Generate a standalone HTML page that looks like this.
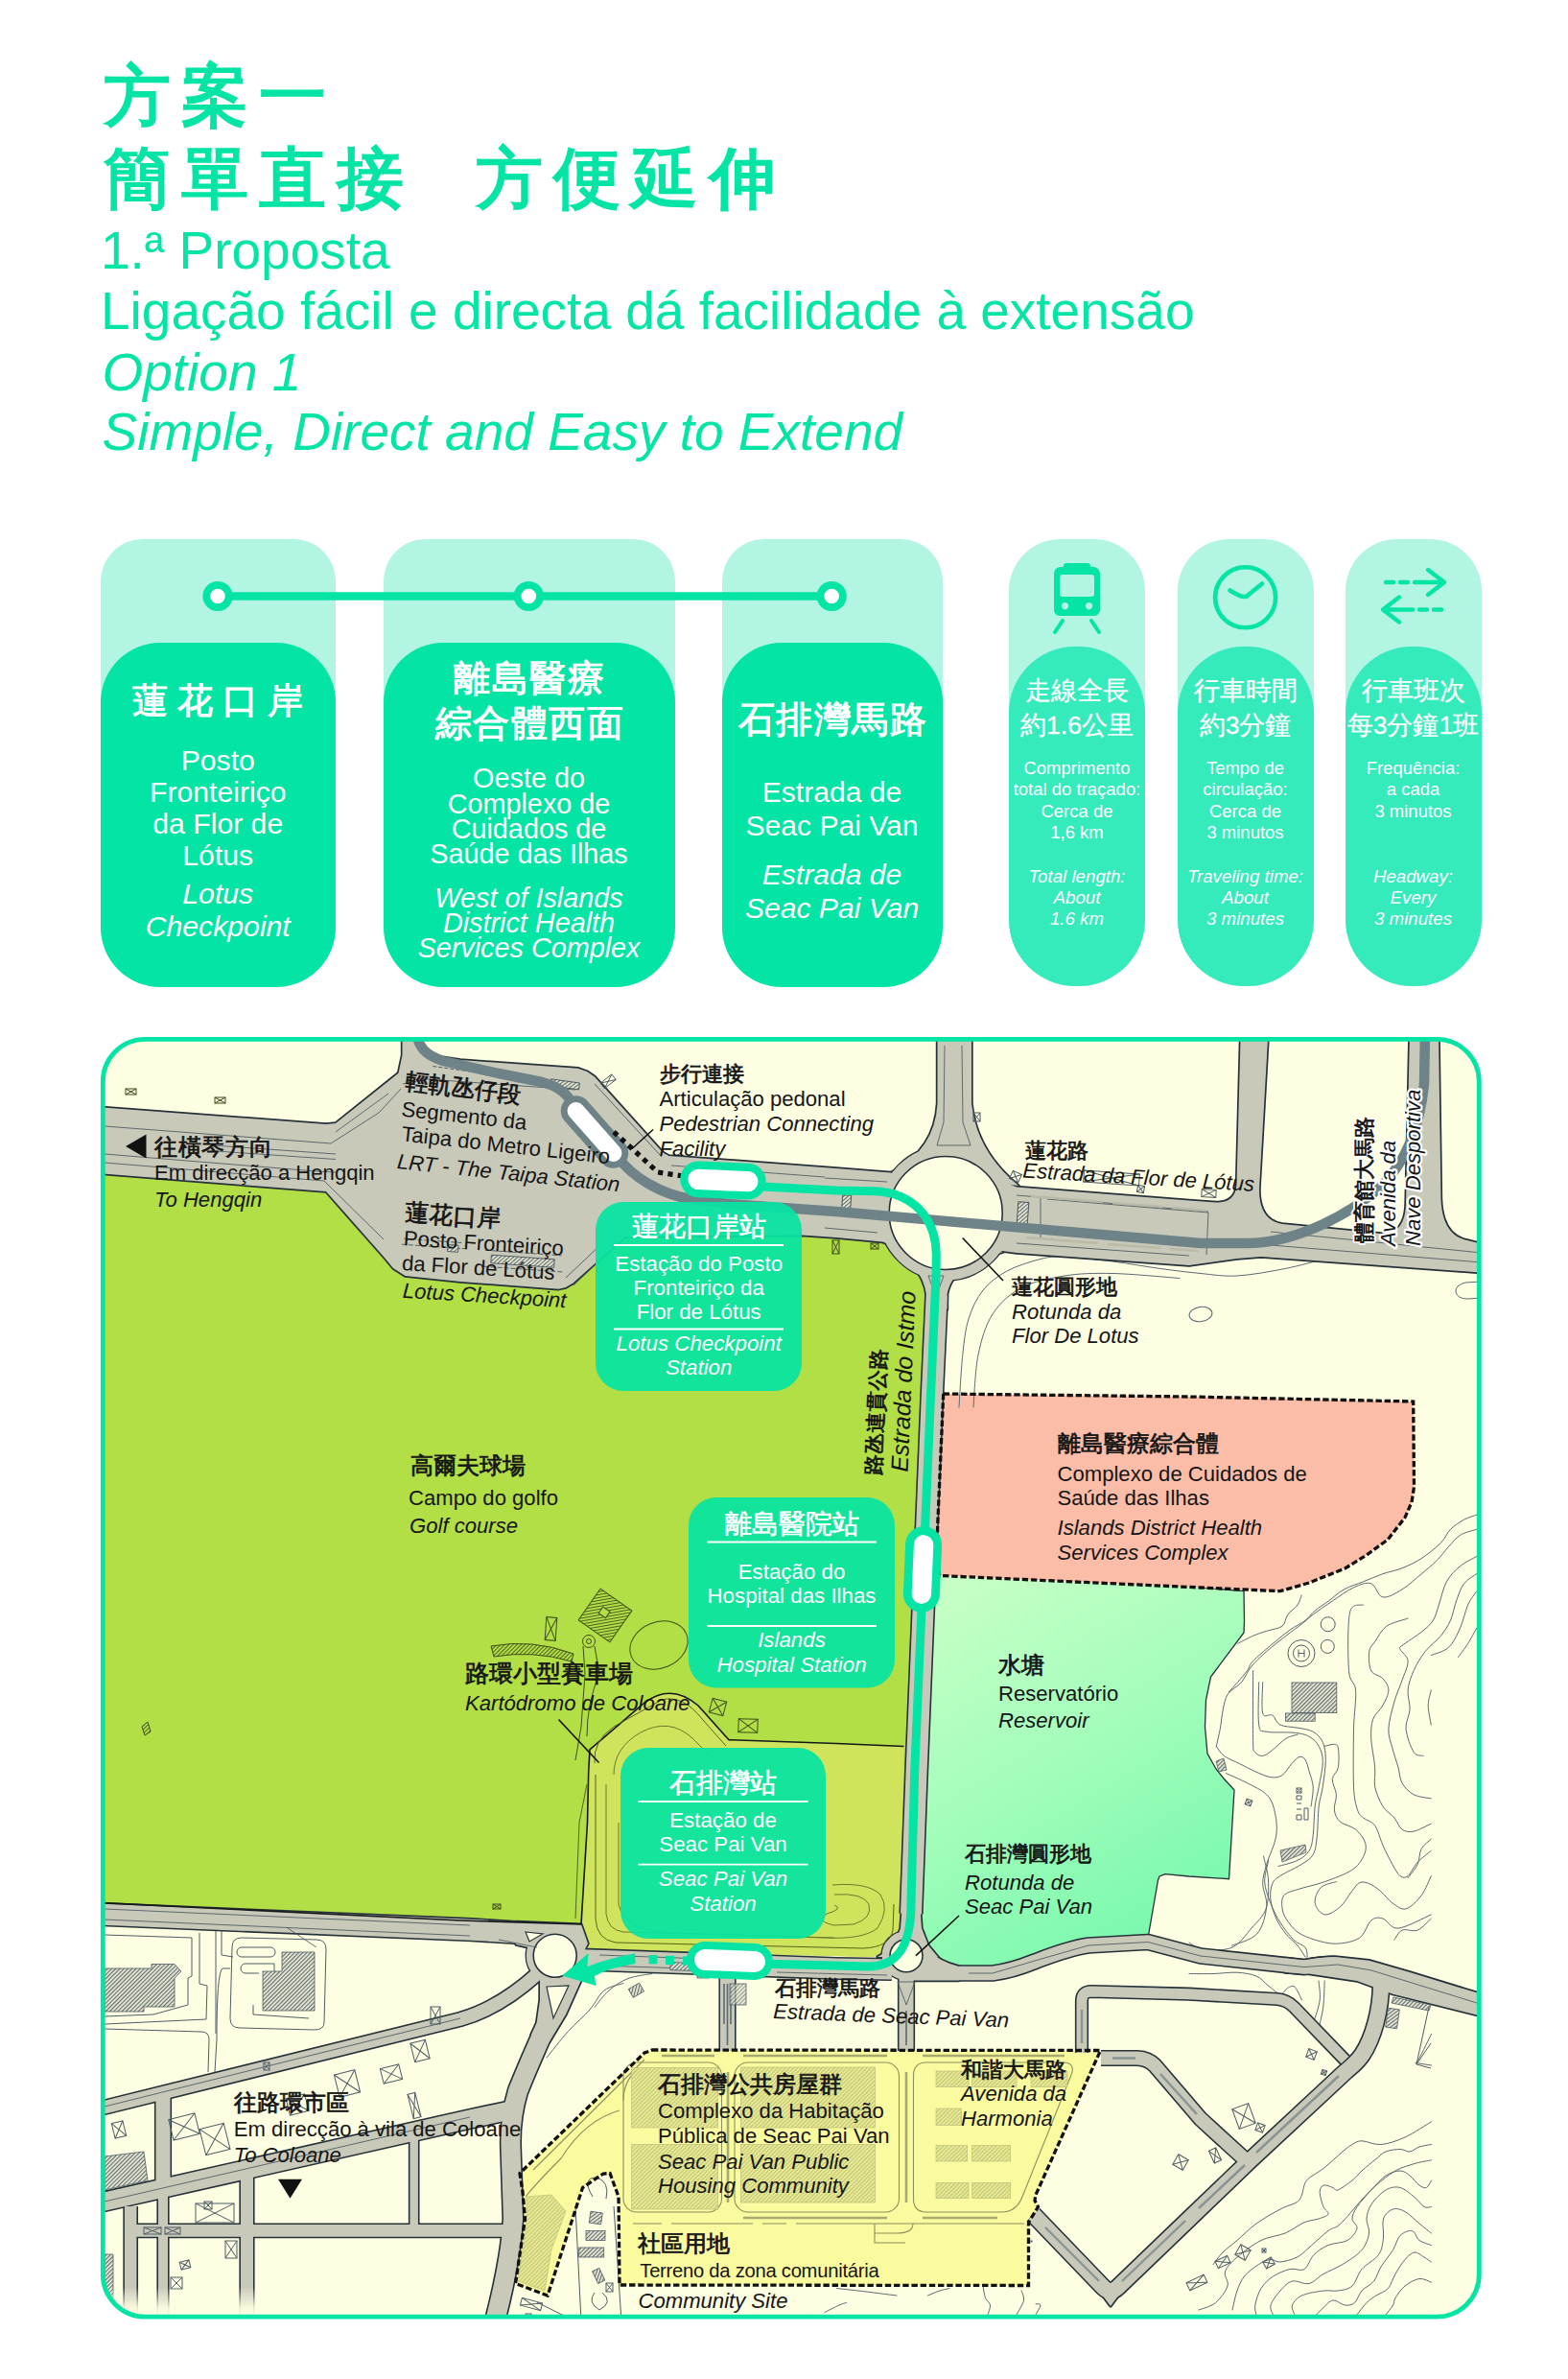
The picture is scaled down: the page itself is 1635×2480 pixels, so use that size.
<!DOCTYPE html>
<html><head><meta charset="utf-8"><title>方案一</title>
<style>
html,body{margin:0;padding:0;background:#fff;}
body{width:1635px;height:2480px;position:relative;overflow:hidden;font-family:"Liberation Sans",sans-serif;}
.a{position:absolute;white-space:nowrap;}
.h{color:#04E4A4;font-size:55px;line-height:63px;left:105px;}
.h.i{left:106.5px;}
.t{color:#04E4A4;font-size:69.5px;line-height:80px;font-weight:bold;left:108px;letter-spacing:11px;}
.card{position:absolute;border-radius:44px;background:#B1F5E2;}
.cd{position:absolute;left:0;right:0;bottom:0;border-radius:60px;background:#04E4A4;}
.sd{position:absolute;left:0;right:0;bottom:0;border-radius:50px;background:#35EBBC;}
.c{position:absolute;left:-20px;right:-20px;text-align:center;color:#fff;white-space:nowrap;}
.i{font-style:italic;}
svg text{font-family:"Liberation Sans",sans-serif;}
</style></head><body>

<div class="a t" style="top:60px">方案一</div>
<div class="a t" style="top:146px">簡單直接<span style="display:inline-block;width:63.5px"></span>方便延伸</div>
<div class="a h" style="top:230.4px">1.ª Proposta</div>
<div class="a h" style="top:292.9px">Ligação fácil e directa dá facilidade à extensão</div>
<div class="a h i" style="top:356.9px">Option 1</div>
<div class="a h i" style="top:419.4px">Simple, Direct and Easy to Extend</div>
<div class="card" style="left:104.5px;top:562px;width:245.5px;height:300px;border-radius:44px 44px 0 0"></div>
<div class="card" style="left:104.5px;top:669.5px;width:245.5px;height:359px;border-radius:62px;background:#04E4A4"></div>
<div class="card" style="left:399.5px;top:562px;width:304px;height:300px;border-radius:44px 44px 0 0"></div>
<div class="card" style="left:399.5px;top:669.5px;width:304px;height:359px;border-radius:62px;background:#04E4A4"></div>
<div class="card" style="left:752.5px;top:562px;width:230px;height:300px;border-radius:44px 44px 0 0"></div>
<div class="card" style="left:752.5px;top:669.5px;width:230px;height:359px;border-radius:62px;background:#04E4A4"></div>
<svg class="a" style="left:0;top:0" width="1635" height="1060" viewBox="0 0 1635 1060">
<line x1="227" y1="621.5" x2="867" y2="621.5" stroke="#04E4A4" stroke-width="8.5"/>
<circle cx="227" cy="621.5" r="11.7" fill="#fff" stroke="#04E4A4" stroke-width="7.8"/>
<circle cx="551.3" cy="621.5" r="11.7" fill="#fff" stroke="#04E4A4" stroke-width="7.8"/>
<circle cx="867.2" cy="621.5" r="11.7" fill="#fff" stroke="#04E4A4" stroke-width="7.8"/>
</svg>
<div class="card" style="left:1052px;top:562px;width:142px;height:300px;border-radius:54px 54px 0 0"></div>
<div class="card" style="left:1052px;top:674px;width:142px;height:354px;border-radius:69px;background:#35EBBC"></div>
<div class="card" style="left:1228px;top:562px;width:142px;height:300px;border-radius:54px 54px 0 0"></div>
<div class="card" style="left:1228px;top:674px;width:142px;height:354px;border-radius:69px;background:#35EBBC"></div>
<div class="card" style="left:1403px;top:562px;width:142px;height:300px;border-radius:54px 54px 0 0"></div>
<div class="card" style="left:1403px;top:674px;width:142px;height:354px;border-radius:69px;background:#35EBBC"></div>
<div class="a" style="left:32.25px;width:400px;text-align:center;top:709.1px;font-size:37px;line-height:44.4px;color:#fff;font-weight:bold;letter-spacing:10px;">蓮花口岸</div>
<div class="a" style="left:27.25px;width:400px;text-align:center;top:778.2px;font-size:30.2px;line-height:30.2px;color:#fff;">Posto</div>
<div class="a" style="left:27.25px;width:400px;text-align:center;top:811.2px;font-size:30.2px;line-height:30.2px;color:#fff;">Fronteiriço</div>
<div class="a" style="left:27.25px;width:400px;text-align:center;top:844.1px;font-size:30.2px;line-height:30.2px;color:#fff;">da Flor de</div>
<div class="a" style="left:27.25px;width:400px;text-align:center;top:877.1px;font-size:30.2px;line-height:30.2px;color:#fff;">Lótus</div>
<div class="a" style="left:27.25px;width:400px;text-align:center;top:917.3px;font-size:30.2px;line-height:30.2px;color:#fff;font-style:italic;">Lotus</div>
<div class="a" style="left:27.25px;width:400px;text-align:center;top:950.9px;font-size:30.2px;line-height:30.2px;color:#fff;font-style:italic;">Checkpoint</div>
<div class="a" style="left:352.25px;width:400px;text-align:center;top:685.0px;font-size:37.5px;line-height:45px;color:#fff;font-weight:bold;letter-spacing:1.5px;">離島醫療</div>
<div class="a" style="left:352.25px;width:400px;text-align:center;top:731.5px;font-size:37.5px;line-height:45px;color:#fff;font-weight:bold;letter-spacing:1.5px;">綜合體西面</div>
<div class="a" style="left:351.5px;width:400px;text-align:center;top:797.4px;font-size:28.8px;line-height:28.8px;color:#fff;">Oeste do</div>
<div class="a" style="left:351.5px;width:400px;text-align:center;top:823.5px;font-size:28.8px;line-height:28.8px;color:#fff;">Complexo de</div>
<div class="a" style="left:351.5px;width:400px;text-align:center;top:849.7px;font-size:28.8px;line-height:28.8px;color:#fff;">Cuidados de</div>
<div class="a" style="left:351.5px;width:400px;text-align:center;top:875.9px;font-size:28.8px;line-height:28.8px;color:#fff;">Saúde das Ilhas</div>
<div class="a" style="left:351.5px;width:400px;text-align:center;top:921.5px;font-size:28.8px;line-height:28.8px;color:#fff;font-style:italic;">West of Islands</div>
<div class="a" style="left:351.5px;width:400px;text-align:center;top:947.5px;font-size:28.8px;line-height:28.8px;color:#fff;font-style:italic;">District Health</div>
<div class="a" style="left:351.5px;width:400px;text-align:center;top:973.6px;font-size:28.8px;line-height:28.8px;color:#fff;font-style:italic;">Services Complex</div>
<div class="a" style="left:668.25px;width:400px;text-align:center;top:728.0px;font-size:37.5px;line-height:45px;color:#fff;font-weight:bold;letter-spacing:1.5px;">石排灣馬路</div>
<div class="a" style="left:667.5px;width:400px;text-align:center;top:811.3px;font-size:30.1px;line-height:30.1px;color:#fff;">Estrada de</div>
<div class="a" style="left:667.5px;width:400px;text-align:center;top:846.0px;font-size:30.1px;line-height:30.1px;color:#fff;">Seac Pai Van</div>
<div class="a" style="left:667.5px;width:400px;text-align:center;top:897.0px;font-size:30.1px;line-height:30.1px;color:#fff;font-style:italic;">Estrada de</div>
<div class="a" style="left:667.5px;width:400px;text-align:center;top:932.4px;font-size:30.1px;line-height:30.1px;color:#fff;font-style:italic;">Seac Pai Van</div>
<div class="a" style="left:923px;width:400px;text-align:center;top:704.8px;font-size:26.5px;line-height:31.8px;color:#fff;-webkit-text-stroke:0.3px #fff;">走線全長</div>
<div class="a" style="left:923px;width:400px;text-align:center;top:741.3px;font-size:26.5px;line-height:31.8px;color:#fff;-webkit-text-stroke:0.3px #fff;">約1.6公里</div>
<div class="a" style="left:923px;width:400px;text-align:center;top:792.2px;font-size:18.5px;line-height:18.5px;color:#fff;">Comprimento</div>
<div class="a" style="left:923px;width:400px;text-align:center;top:814.4px;font-size:18.5px;line-height:18.5px;color:#fff;">total do traçado:</div>
<div class="a" style="left:923px;width:400px;text-align:center;top:836.6px;font-size:18.5px;line-height:18.5px;color:#fff;">Cerca de</div>
<div class="a" style="left:923px;width:400px;text-align:center;top:858.8px;font-size:18.5px;line-height:18.5px;color:#fff;">1,6 km</div>
<div class="a" style="left:923px;width:400px;text-align:center;top:904.6px;font-size:18.7px;line-height:18.7px;color:#fff;font-style:italic;">Total length:</div>
<div class="a" style="left:923px;width:400px;text-align:center;top:926.9px;font-size:18.7px;line-height:18.7px;color:#fff;font-style:italic;">About</div>
<div class="a" style="left:923px;width:400px;text-align:center;top:949.2px;font-size:18.7px;line-height:18.7px;color:#fff;font-style:italic;">1.6 km</div>
<div class="a" style="left:1098.5px;width:400px;text-align:center;top:704.8px;font-size:26.5px;line-height:31.8px;color:#fff;-webkit-text-stroke:0.3px #fff;">行車時間</div>
<div class="a" style="left:1098.5px;width:400px;text-align:center;top:741.3px;font-size:26.5px;line-height:31.8px;color:#fff;-webkit-text-stroke:0.3px #fff;">約3分鐘</div>
<div class="a" style="left:1098.5px;width:400px;text-align:center;top:792.2px;font-size:18.5px;line-height:18.5px;color:#fff;">Tempo de</div>
<div class="a" style="left:1098.5px;width:400px;text-align:center;top:814.4px;font-size:18.5px;line-height:18.5px;color:#fff;">circulação:</div>
<div class="a" style="left:1098.5px;width:400px;text-align:center;top:836.6px;font-size:18.5px;line-height:18.5px;color:#fff;">Cerca de</div>
<div class="a" style="left:1098.5px;width:400px;text-align:center;top:858.8px;font-size:18.5px;line-height:18.5px;color:#fff;">3 minutos</div>
<div class="a" style="left:1098.5px;width:400px;text-align:center;top:904.6px;font-size:18.7px;line-height:18.7px;color:#fff;font-style:italic;">Traveling time:</div>
<div class="a" style="left:1098.5px;width:400px;text-align:center;top:926.9px;font-size:18.7px;line-height:18.7px;color:#fff;font-style:italic;">About</div>
<div class="a" style="left:1098.5px;width:400px;text-align:center;top:949.2px;font-size:18.7px;line-height:18.7px;color:#fff;font-style:italic;">3 minutes</div>
<div class="a" style="left:1273.5px;width:400px;text-align:center;top:704.8px;font-size:26.5px;line-height:31.8px;color:#fff;-webkit-text-stroke:0.3px #fff;">行車班次</div>
<div class="a" style="left:1273.5px;width:400px;text-align:center;top:741.3px;font-size:26.5px;line-height:31.8px;color:#fff;-webkit-text-stroke:0.3px #fff;">每3分鐘1班</div>
<div class="a" style="left:1273.5px;width:400px;text-align:center;top:792.2px;font-size:18.5px;line-height:18.5px;color:#fff;">Frequência:</div>
<div class="a" style="left:1273.5px;width:400px;text-align:center;top:814.4px;font-size:18.5px;line-height:18.5px;color:#fff;">a cada</div>
<div class="a" style="left:1273.5px;width:400px;text-align:center;top:836.6px;font-size:18.5px;line-height:18.5px;color:#fff;">3 minutos</div>
<div class="a" style="left:1273.5px;width:400px;text-align:center;top:904.6px;font-size:18.7px;line-height:18.7px;color:#fff;font-style:italic;">Headway:</div>
<div class="a" style="left:1273.5px;width:400px;text-align:center;top:926.9px;font-size:18.7px;line-height:18.7px;color:#fff;font-style:italic;">Every</div>
<div class="a" style="left:1273.5px;width:400px;text-align:center;top:949.2px;font-size:18.7px;line-height:18.7px;color:#fff;font-style:italic;">3 minutes</div>
<svg class="a" style="left:1040px;top:570px" width="520" height="110" viewBox="1040 570 520 110">
<g fill="#04E4A4" stroke="none">
<path d="M1112 587 h22 a3 3 0 0 1 3 3 v1 h3 a7 7 0 0 1 7 7 v38 a6 6 0 0 1 -6 6 h-36 a6 6 0 0 1 -6 -6 v-38 a7 7 0 0 1 7 -7 h3 v-1 a3 3 0 0 1 3 -3 z M1108 599 a3 3 0 0 0 -3 3 v17 a3 3 0 0 0 3 3 h30 a3 3 0 0 0 3 -3 v-17 a3 3 0 0 0 -3 -3 z M1110.5 628 a3.7 3.7 0 1 0 0.01 0 z M1135.500 628 a3.7 3.7 0 1 0 0.01 0 z" fill-rule="evenodd"/>
</g>
<path d="M1108 647 L1100 659 M1138 647 L1146 659" stroke="#04E4A4" stroke-width="4" stroke-linecap="round" fill="none"/>
<circle cx="1298.6" cy="622.8" r="31.5" fill="none" stroke="#04E4A4" stroke-width="4.6"/>
<path d="M1282.500 615.500 Q1296 624 1300 621.500 L1316 608.500" stroke="#04E4A4" stroke-width="4.6" stroke-linecap="round" stroke-linejoin="round" fill="none"/>
<g stroke="#04E4A4" stroke-width="4.4" stroke-linecap="round" stroke-linejoin="round" fill="none">
<path d="M1445 607 h8 M1460 607 h8 M1475 607 h30 M1489 594 L1506 607 L1489 620"/>
<path d="M1503 635.500 h-8 M1488 635.500 h-8 M1473 635.500 h-30 M1459 622.500 L1442 635.500 L1459 648.500"/>
</g></svg>
<svg class="a" style="left:0;top:1060px" width="1635" height="1420" viewBox="0 1060 1635 1420">
<defs>
<clipPath id="fr"><rect x="107.3" y="1083.4" width="1435" height="1331.7" rx="44" ry="44"/></clipPath>
<linearGradient id="res" gradientUnits="userSpaceOnUse" x1="1000" y1="1650" x2="1230" y2="2040"><stop offset="0" stop-color="#C6FFC6"/><stop offset="0.45" stop-color="#A4FDBB"/><stop offset="1" stop-color="#74F8AB"/></linearGradient>
<pattern id="hat" width="3" height="3" patternUnits="userSpaceOnUse" patternTransform="rotate(45)"><rect width="3" height="3" fill="#e9e9d2"/><rect width="1.1" height="3" fill="#5d6a70"/></pattern>
<pattern id="hatg" width="3" height="3" patternUnits="userSpaceOnUse" patternTransform="rotate(45)"><rect width="1" height="3" fill="#4d6320"/></pattern>
<pattern id="haty" width="3" height="3" patternUnits="userSpaceOnUse" patternTransform="rotate(45)"><rect width="3" height="3" fill="#e6e88f"/><rect width="1" height="3" fill="#b9bd78"/></pattern>
<linearGradient id="fade" x1="0" y1="0" x2="0" y2="1"><stop offset="0" stop-color="#FEFEE2" stop-opacity="0"/><stop offset="0.6" stop-color="#FEFEE2" stop-opacity="0.9"/><stop offset="1" stop-color="#FEFEE2" stop-opacity="1"/></linearGradient>
</defs>
<g clip-path="url(#fr)">
<rect x="100" y="1075" width="1450" height="1350" fill="#FEFEE2"/>
<polygon points="100,1223 340,1242 400,1310 410,1322 422.5,1330 480,1336 582.5,1343.7 597.5,1337.5 652,1289 836,1287.5 872,1290 920,1294.5 966,1300 966,1352 961.2,1455 943.7,1847 940,2005 935,2030 910,2040 615,2032.5 606,2006 480,2002 100,1983.3" fill="#B2DE46"/>
<path d="M612.5 1900 L613.7 1847 L615 1824 L672 1775 Q700 1754 728 1778 L760 1813.7 L872 1817.5 L942.5 1820.5 L940 2005 L935 2030 L910 2040 L615 2032.5 L607 2015 L606 2006 Z" fill="#CFE35C"/>
<polygon points="975.3,1643 1252,1655 1297,1658.7 1297.5,1690 1297,1702 1262.5,1748 1257.5,1772 1256.5,1800 1259,1828 1268,1844 1276,1854 1287,1866 1281.5,1958.7 1240,1956 1215,1953.7 1209,1956 1207.5,1960 1197.5,2017.5 1135,2021 1085,2035 1035,2050 1010,2051 990,2047.5 975,2038 967.5,2027.5 961,2010 960,1997.5 966,1835" fill="url(#res)"/>
<path d="M1252 1655 L1297 1658.7 L1297.5 1690 L1297 1702 L1262.5 1748 L1257.5 1772 L1256.5 1800 L1259 1828 L1268 1844 L1276 1854 L1287 1866 L1281.5 1958.7 L1240 1956 L1215 1953.7 L1209 1956 L1207.5 1960 L1197.5 2017.5 L1135 2021" fill="none" stroke="#26323a" stroke-width="1.3"/>
<polygon points="983.7,1453 1240,1456 1473.7,1461 1474.5,1550 1472,1566 1465,1582 1447,1605 1425,1621 1402.5,1635 1365,1650 1335,1658.7 1252,1655 979.5,1642.5 977.5,1595" fill="#FBBDA7"/>
<polygon points="680,2137 1147.5,2137.5 1080,2288 1079,2294 1082.5,2300.5 1072.5,2316.7 1072.5,2382.5 646,2382 645,2290 636,2265.5 629,2266 607.5,2280.5 571,2393 537.5,2380.5 547.5,2313 545,2285 542,2265.5 672,2140" fill="#FAFA9E"/>
<g fill="none" stroke="#5b6a72" stroke-width="1" stroke-linejoin="round" stroke-linecap="round">
<path d="M1290.5 1713.4 C1293.1 1712.0 1301.6 1707.5 1306.6 1705.3 C1311.6 1703.1 1315.7 1701.9 1320.7 1700.3 C1325.8 1698.6 1333.2 1698.1 1336.9 1695.2 C1340.6 1692.4 1340.2 1686.8 1342.9 1683.1 C1345.6 1679.4 1350.7 1676.4 1353.0 1673.0 C1355.4 1669.7 1356.4 1664.6 1357.1 1662.9"/>
<path d="M1281.4 1763.8 C1282.9 1762.2 1287.3 1757.4 1290.5 1753.7 C1293.6 1750.0 1297.9 1745.3 1300.5 1741.6 C1303.2 1737.9 1302.6 1735.9 1306.6 1731.5 C1310.6 1727.2 1318.4 1720.8 1324.8 1715.4 C1331.2 1710.0 1338.9 1703.6 1344.9 1699.3 C1351.0 1694.9 1356.7 1692.5 1361.1 1689.2 C1365.5 1685.8 1367.1 1682.4 1371.2 1679.1 C1375.2 1675.7 1380.3 1672.7 1385.3 1669.0 C1390.4 1665.3 1395.4 1660.2 1401.5 1656.9 C1407.5 1653.5 1414.9 1651.5 1421.6 1648.8 C1428.4 1646.1 1435.1 1643.1 1441.8 1640.7 C1448.5 1638.4 1455.3 1637.4 1462.0 1634.7 C1468.7 1632.0 1475.5 1629.0 1482.2 1624.6 C1488.9 1620.2 1497.3 1613.5 1502.4 1608.4 C1507.4 1603.4 1508.4 1598.3 1512.5 1594.3 C1516.5 1590.3 1522.0 1586.7 1526.6 1584.2 C1531.1 1581.7 1537.5 1580.0 1539.7 1579.2"/>
<path d="M1268.3 1820.3 C1268.9 1817.3 1271.1 1808.6 1272.3 1802.2 C1273.5 1795.8 1274.0 1788.1 1275.3 1782.0 C1276.7 1775.9 1277.2 1770.6 1280.4 1765.9 C1283.6 1761.1 1290.5 1758.5 1294.5 1753.7 C1298.5 1749.0 1300.2 1743.0 1304.6 1737.6 C1309.0 1732.2 1314.7 1726.8 1320.7 1721.5 C1326.8 1716.1 1334.9 1710.0 1340.9 1705.3 C1347.0 1700.6 1352.3 1696.9 1357.1 1693.2 C1361.8 1689.5 1363.8 1687.1 1369.2 1683.1 C1374.5 1679.1 1382.3 1673.7 1389.3 1669.0 C1396.4 1664.3 1404.8 1657.9 1411.5 1654.9 C1418.3 1651.8 1424.7 1649.1 1429.7 1650.8 C1434.8 1652.5 1436.4 1663.9 1441.8 1664.9 C1447.2 1666.0 1455.3 1660.9 1462.0 1656.9 C1468.7 1652.8 1476.1 1645.8 1482.2 1640.7 C1488.2 1635.7 1493.6 1631.3 1498.3 1626.6 C1503.0 1621.9 1506.4 1616.8 1510.4 1612.5 C1514.5 1608.1 1517.7 1603.4 1522.5 1600.4 C1527.4 1597.3 1536.8 1595.3 1539.7 1594.3"/>
<path d="M1268.3 1820.3 C1269.6 1822.0 1272.3 1827.4 1276.3 1830.4 C1280.4 1833.5 1287.1 1835.8 1292.5 1838.5 C1297.9 1841.2 1303.2 1844.2 1308.6 1846.6 C1314.0 1848.9 1320.1 1852.0 1324.8 1852.6 C1329.5 1853.3 1333.2 1853.0 1336.9 1850.6 C1340.6 1848.3 1343.9 1841.7 1347.0 1838.5 C1350.0 1835.3 1352.7 1832.1 1355.0 1831.4 C1357.4 1830.8 1359.4 1831.9 1361.1 1834.5 C1362.8 1837.0 1363.8 1841.9 1365.1 1846.6 C1366.5 1851.3 1368.8 1856.7 1369.2 1862.7 C1369.5 1868.8 1367.5 1879.5 1367.1 1882.9"/>
<path d="M1306.6 1741.6 C1306.6 1753.7 1306.3 1800.2 1306.6 1814.3 C1306.9 1828.4 1306.9 1823.7 1308.6 1826.4 C1310.3 1829.1 1313.7 1830.8 1316.7 1830.4 C1319.7 1830.1 1322.7 1827.4 1326.8 1824.4 C1330.8 1821.4 1336.5 1815.0 1340.9 1812.3 C1345.3 1809.6 1351.0 1808.9 1353.0 1808.2"/>
<path d="M1312.7 1753.7 C1312.7 1761.1 1311.3 1789.6 1312.7 1798.1 C1314.0 1806.7 1314.7 1803.9 1320.7 1805.2 C1326.8 1806.6 1341.6 1805.4 1349.0 1806.2 C1356.4 1807.1 1360.8 1807.9 1365.1 1810.3 C1369.5 1812.6 1372.9 1816.0 1375.2 1820.3 C1377.6 1824.7 1379.3 1829.4 1379.3 1836.5 C1379.3 1843.6 1376.6 1855.0 1375.2 1862.7 C1373.9 1870.5 1372.2 1874.5 1371.2 1882.9 C1370.2 1891.3 1370.2 1905.4 1369.2 1913.2 C1368.2 1920.9 1367.8 1925.0 1365.1 1929.3 C1362.4 1933.7 1358.4 1936.7 1353.0 1939.4 C1347.6 1942.1 1336.2 1944.5 1332.8 1945.5"/>
<path d="M1316.7 1753.7 C1316.7 1759.1 1315.0 1780.3 1316.7 1786.0 C1318.4 1791.8 1323.8 1786.0 1326.8 1788.1 C1329.8 1790.1 1330.5 1796.0 1334.9 1798.1 C1339.2 1800.3 1347.3 1800.0 1353.0 1801.2 C1358.7 1802.3 1364.8 1802.7 1369.2 1805.2 C1373.5 1807.7 1377.1 1811.4 1379.3 1816.3 C1381.4 1821.2 1382.3 1826.7 1382.3 1834.5 C1382.3 1842.2 1380.4 1854.7 1379.3 1862.7 C1378.1 1870.8 1376.2 1874.2 1375.2 1882.9 C1374.2 1891.7 1374.2 1906.8 1373.2 1915.2 C1372.2 1923.6 1371.9 1928.7 1369.2 1933.4 C1366.5 1938.1 1362.8 1939.8 1357.1 1943.5 C1351.3 1947.2 1339.9 1952.2 1334.9 1955.6 C1329.8 1958.9 1328.5 1959.6 1326.8 1963.6 C1325.1 1967.7 1324.1 1973.7 1324.8 1979.8 C1325.4 1985.8 1328.1 1993.9 1330.8 2000.0 C1333.5 2006.0 1337.2 2011.4 1340.9 2016.1 C1344.6 2020.8 1349.7 2024.2 1353.0 2028.2 C1356.4 2032.2 1359.7 2038.1 1361.1 2040.1"/>
<path d="M1381.3 1820.3 C1383.0 1820.0 1389.0 1818.0 1391.4 1818.3 C1393.7 1818.7 1394.7 1818.3 1395.4 1822.4 C1396.1 1826.4 1396.4 1837.2 1395.4 1842.5 C1394.4 1847.9 1389.7 1849.9 1389.3 1854.7 C1389.0 1859.4 1393.0 1865.4 1393.4 1870.8 C1393.7 1876.2 1390.7 1882.2 1391.4 1886.9 C1392.0 1891.7 1393.7 1895.7 1397.4 1899.1 C1401.1 1902.4 1409.2 1903.4 1413.6 1907.1 C1417.9 1910.8 1422.3 1916.5 1423.7 1921.3 C1425.0 1926.0 1424.0 1930.7 1421.6 1935.4 C1419.3 1940.1 1416.3 1945.1 1409.5 1949.5 C1402.8 1953.9 1390.7 1958.3 1381.3 1961.6 C1371.9 1965.0 1360.1 1967.3 1353.0 1969.7 C1346.0 1972.0 1341.6 1972.7 1338.9 1975.7 C1336.2 1978.8 1336.5 1983.8 1336.9 1987.9 C1337.2 1991.9 1338.2 1995.6 1340.9 2000.0 C1343.6 2004.3 1348.0 2010.4 1353.0 2014.1 C1358.1 2017.8 1364.5 2020.1 1371.2 2022.2 C1377.9 2024.2 1385.6 2026.5 1393.4 2026.2 C1401.1 2025.9 1411.5 2024.2 1417.6 2020.1 C1423.7 2016.1 1425.7 2005.3 1429.7 2002.0 C1433.7 1998.6 1437.1 1998.6 1441.8 2000.0 C1446.5 2001.3 1449.6 2010.7 1458.0 2010.1 C1466.4 2009.4 1486.6 1998.3 1492.3 1995.9"/>
<path d="M1421.6 1673.0 C1419.3 1674.4 1410.0 1669.7 1407.5 1681.1 C1405.0 1692.5 1405.5 1728.2 1406.5 1741.6 C1407.5 1755.1 1412.7 1751.7 1413.6 1761.8 C1414.4 1771.9 1411.9 1785.4 1411.5 1802.2 C1411.2 1819.0 1410.9 1848.6 1411.5 1862.7 C1412.2 1876.9 1413.9 1881.6 1415.6 1886.9 C1417.3 1892.3 1418.6 1892.3 1421.6 1895.0 C1424.7 1897.7 1430.4 1898.4 1433.7 1903.1 C1437.1 1907.8 1438.8 1916.5 1441.8 1923.3 C1444.8 1930.0 1448.9 1938.1 1451.9 1943.5 C1454.9 1948.8 1457.3 1953.5 1460.0 1955.6 C1462.7 1957.6 1465.0 1957.9 1468.1 1955.6 C1471.1 1953.2 1474.1 1945.8 1478.1 1941.4 C1482.2 1937.1 1489.9 1931.3 1492.3 1929.3"/>
<path d="M1468.1 1687.1 C1464.4 1688.5 1451.6 1691.2 1445.9 1695.2 C1440.1 1699.3 1436.8 1707.0 1433.7 1711.4 C1430.7 1715.7 1428.4 1716.4 1427.7 1721.5 C1427.0 1726.5 1427.4 1736.9 1429.7 1741.6 C1432.1 1746.3 1438.8 1746.3 1441.8 1749.7 C1444.8 1753.1 1447.9 1757.1 1447.9 1761.8 C1447.9 1766.5 1444.5 1772.9 1441.8 1778.0 C1439.1 1783.0 1433.7 1786.4 1431.7 1792.1 C1429.7 1797.8 1429.4 1803.9 1429.7 1812.3 C1430.0 1820.7 1433.1 1834.1 1433.7 1842.5 C1434.4 1851.0 1432.4 1856.0 1433.7 1862.7 C1435.1 1869.5 1438.5 1877.5 1441.8 1882.9 C1445.2 1888.3 1450.6 1891.0 1453.9 1895.0 C1457.3 1899.1 1458.6 1904.8 1462.0 1907.1 C1465.4 1909.5 1469.1 1910.2 1474.1 1909.1 C1479.2 1908.1 1489.2 1902.4 1492.3 1901.1"/>
<path d="M1539.7 1622.6 C1536.8 1624.2 1527.8 1628.3 1522.5 1632.7 C1517.3 1637.0 1512.1 1642.1 1508.4 1648.8 C1504.7 1655.5 1502.7 1666.3 1500.3 1673.0 C1498.0 1679.7 1497.3 1684.5 1494.3 1689.2 C1491.3 1693.9 1487.6 1696.9 1482.2 1701.3 C1476.8 1705.6 1465.7 1712.4 1462.0 1715.4 C1458.3 1718.4 1459.0 1716.7 1460.0 1719.4 C1461.0 1722.1 1467.7 1726.2 1468.1 1731.5 C1468.4 1736.9 1464.4 1744.7 1462.0 1751.7 C1459.6 1758.8 1456.3 1765.5 1453.9 1773.9 C1451.6 1782.3 1448.2 1794.1 1447.9 1802.2 C1447.5 1810.3 1450.2 1815.6 1451.9 1822.4 C1453.6 1829.1 1456.3 1836.5 1458.0 1842.5 C1459.6 1848.6 1459.3 1854.0 1462.0 1858.7 C1464.7 1863.4 1469.1 1868.1 1474.1 1870.8 C1479.2 1873.5 1489.2 1874.2 1492.3 1874.8"/>
<path d="M1539.7 1640.7 C1537.5 1642.4 1530.1 1646.1 1526.6 1650.8 C1523.0 1655.5 1520.9 1662.6 1518.5 1669.0 C1516.2 1675.4 1515.1 1683.1 1512.5 1689.2 C1509.8 1695.2 1506.7 1699.9 1502.4 1705.3 C1498.0 1710.7 1490.9 1715.4 1486.2 1721.5 C1481.5 1727.5 1477.1 1734.9 1474.1 1741.6 C1471.1 1748.4 1468.7 1755.1 1468.1 1761.8 C1467.4 1768.5 1470.4 1775.3 1470.1 1782.0 C1469.7 1788.7 1465.4 1794.8 1466.0 1802.2 C1466.7 1809.6 1471.1 1821.7 1474.1 1826.4 C1477.1 1831.1 1482.5 1829.8 1484.2 1830.4"/>
<path d="M1539.7 1658.9 C1538.2 1661.2 1533.5 1666.6 1530.6 1673.0 C1527.8 1679.4 1525.9 1689.8 1522.5 1697.2 C1519.2 1704.6 1515.5 1712.7 1510.4 1717.4 C1505.4 1722.1 1495.3 1724.1 1492.3 1725.5"/>
<path d="M1539.7 1697.2 C1538.2 1699.9 1533.8 1708.3 1530.6 1713.4 C1527.4 1718.4 1522.2 1725.2 1520.5 1727.5"/>
<path d="M1492.3 1761.8 C1491.8 1764.5 1489.2 1771.9 1489.2 1778.0 C1489.2 1784.0 1491.8 1794.8 1492.3 1798.1"/>
<path d="M1492.3 1917.2 C1490.6 1918.9 1484.5 1922.9 1482.2 1927.3 C1479.8 1931.7 1480.5 1938.4 1478.1 1943.5 C1475.8 1948.5 1469.7 1955.2 1468.1 1957.6"/>
<path d="M1492.3 1955.6 C1490.6 1958.9 1486.6 1970.0 1482.2 1975.7 C1477.8 1981.5 1471.1 1988.5 1466.0 1989.9 C1461.0 1991.2 1456.3 1986.8 1451.9 1983.8 C1447.5 1980.8 1443.8 1975.1 1439.8 1971.7 C1435.8 1968.3 1431.4 1965.1 1427.7 1963.6 C1424.0 1962.1 1420.6 1961.3 1417.6 1962.6 C1414.6 1964.0 1412.9 1967.5 1409.5 1971.7 C1406.2 1975.9 1402.1 1983.8 1397.4 1987.9 C1392.7 1991.9 1385.6 1996.6 1381.3 1995.9 C1376.9 1995.3 1371.9 1988.5 1371.2 1983.8 C1370.5 1979.1 1373.5 1971.4 1377.2 1967.7 C1380.9 1964.0 1390.7 1962.6 1393.4 1961.6"/>
<path d="M1492.3 2000.0 C1489.9 2002.0 1483.2 2010.1 1478.1 2012.1 C1473.1 2014.1 1466.0 2010.4 1462.0 2012.1 C1458.0 2013.8 1455.3 2020.5 1453.9 2022.2"/>
<path d="M1278.3 1848.6 C1282.0 1850.3 1293.5 1855.0 1300.5 1858.7 C1307.6 1862.4 1316.0 1866.1 1320.7 1870.8 C1325.4 1875.5 1327.1 1879.9 1328.8 1886.9 C1330.5 1894.0 1332.2 1903.8 1330.8 1913.2 C1329.5 1922.6 1323.1 1935.0 1320.7 1943.5 C1318.4 1951.9 1316.7 1956.2 1316.7 1963.6 C1316.7 1971.0 1321.7 1979.1 1320.7 1987.9 C1319.7 1996.6 1316.7 2009.4 1310.6 2016.1 C1304.6 2022.8 1288.8 2026.2 1284.4 2028.2"/>
<path d="M1322.7 1939.4 C1322.1 1943.1 1318.4 1954.2 1318.7 1961.6 C1319.0 1969.0 1322.1 1976.8 1324.8 1983.8 C1327.5 1990.9 1330.8 1997.6 1334.9 2004.0 C1338.9 2010.4 1344.6 2017.8 1349.0 2022.2 C1353.4 2026.5 1358.7 2027.2 1361.1 2030.2 C1363.4 2033.2 1362.8 2038.5 1363.1 2040.1"/>
<path d="M1492.5 2211.8 C1487.9 2214.5 1473.8 2224.0 1465.0 2228.0 C1456.2 2232.0 1447.5 2234.9 1440.0 2235.5 C1432.5 2236.1 1425.0 2231.8 1420.0 2231.8 C1415.0 2231.8 1413.3 2233.6 1410.0 2235.5 C1406.7 2237.4 1405.0 2238.8 1400.0 2243.0 C1395.0 2247.2 1386.2 2255.5 1380.0 2260.5 C1373.8 2265.5 1366.2 2268.4 1362.5 2273.0 C1358.8 2277.6 1359.2 2284.2 1357.5 2288.0 C1355.8 2291.8 1356.2 2293.0 1352.5 2295.5 C1348.8 2298.0 1342.1 2299.2 1335.0 2303.0 C1327.9 2306.8 1317.5 2312.6 1310.0 2318.0 C1302.5 2323.4 1295.8 2330.5 1290.0 2335.5 C1284.2 2340.5 1279.2 2343.8 1275.0 2348.0 C1270.8 2352.2 1266.7 2358.4 1265.0 2360.5"/>
<path d="M1492.5 2235.5 C1490.4 2235.9 1483.8 2236.8 1480.0 2238.0 C1476.2 2239.2 1473.3 2242.6 1470.0 2243.0 C1466.7 2243.4 1464.2 2240.5 1460.0 2240.5 C1455.8 2240.5 1449.2 2241.3 1445.0 2243.0 C1440.8 2244.7 1439.2 2247.2 1435.0 2250.5 C1430.8 2253.8 1424.2 2259.2 1420.0 2263.0 C1415.8 2266.8 1414.2 2269.7 1410.0 2273.0 C1405.8 2276.3 1398.3 2281.8 1395.0 2283.0 C1391.7 2284.2 1392.5 2281.3 1390.0 2280.5 C1387.5 2279.7 1382.3 2277.2 1380.0 2278.0 C1377.7 2278.8 1376.2 2281.8 1376.2 2285.5 C1376.2 2289.2 1378.5 2296.8 1380.0 2300.5 C1381.5 2304.2 1385.8 2305.9 1385.0 2308.0 C1384.2 2310.1 1379.2 2311.5 1375.0 2313.0 C1370.8 2314.5 1365.8 2314.2 1360.0 2316.8 C1354.2 2319.2 1347.5 2324.9 1340.0 2328.0 C1332.5 2331.1 1323.3 2331.3 1315.0 2335.5 C1306.7 2339.7 1296.2 2347.6 1290.0 2353.0 C1283.8 2358.4 1279.2 2363.0 1277.5 2368.0 C1275.8 2373.0 1281.7 2377.6 1280.0 2383.0 C1278.3 2388.4 1272.5 2396.3 1267.5 2400.5 C1262.5 2404.7 1252.9 2406.8 1250.0 2408.0"/>
<path d="M1492.5 2251.8 C1489.6 2252.4 1481.2 2253.6 1475.0 2255.5 C1468.8 2257.4 1461.7 2259.2 1455.0 2263.0 C1448.3 2266.8 1440.8 2273.0 1435.0 2278.0 C1429.2 2283.0 1425.0 2287.6 1420.0 2293.0 C1415.0 2298.4 1409.2 2305.9 1405.0 2310.5 C1400.8 2315.1 1398.3 2318.0 1395.0 2320.5 C1391.7 2323.0 1390.0 2321.8 1385.0 2325.5 C1380.0 2329.2 1370.4 2338.4 1365.0 2343.0 C1359.6 2347.6 1357.5 2350.5 1352.5 2353.0 C1347.5 2355.5 1339.6 2357.6 1335.0 2358.0 C1330.4 2358.4 1328.8 2355.1 1325.0 2355.5 C1321.2 2355.9 1317.1 2357.6 1312.5 2360.5 C1307.9 2363.4 1301.2 2368.4 1297.5 2373.0 C1293.8 2377.6 1292.1 2382.2 1290.0 2388.0 C1287.9 2393.8 1285.8 2404.7 1285.0 2408.0"/>
<path d="M1492.5 2273.0 C1491.7 2274.2 1489.6 2279.7 1487.5 2280.5 C1485.4 2281.3 1482.9 2280.1 1480.0 2278.0 C1477.1 2275.9 1473.3 2270.5 1470.0 2268.0 C1466.7 2265.5 1464.2 2263.0 1460.0 2263.0 C1455.8 2263.0 1450.0 2264.7 1445.0 2268.0 C1440.0 2271.3 1435.0 2277.6 1430.0 2283.0 C1425.0 2288.4 1418.3 2295.5 1415.0 2300.5 C1411.7 2305.5 1410.0 2309.2 1410.0 2313.0 C1410.0 2316.8 1415.8 2319.2 1415.0 2323.0 C1414.2 2326.8 1410.0 2332.6 1405.0 2335.5 C1400.0 2338.4 1390.8 2338.0 1385.0 2340.5 C1379.2 2343.0 1374.2 2346.3 1370.0 2350.5 C1365.8 2354.7 1364.2 2363.0 1360.0 2365.5 C1355.8 2368.0 1350.4 2364.2 1345.0 2365.5 C1339.6 2366.8 1332.5 2369.7 1327.5 2373.0 C1322.5 2376.3 1318.1 2380.5 1315.0 2385.5 C1311.9 2390.5 1309.6 2398.4 1308.8 2403.0 C1307.9 2407.6 1309.8 2411.3 1310.0 2413.0"/>
<path d="M1492.5 2300.5 C1491.2 2300.5 1487.9 2302.2 1485.0 2300.5 C1482.1 2298.8 1479.2 2293.8 1475.0 2290.5 C1470.8 2287.2 1465.0 2281.8 1460.0 2280.5 C1455.0 2279.2 1450.0 2280.1 1445.0 2283.0 C1440.0 2285.9 1433.3 2293.0 1430.0 2298.0 C1426.7 2303.0 1425.4 2308.0 1425.0 2313.0 C1424.6 2318.0 1428.3 2322.6 1427.5 2328.0 C1426.7 2333.4 1424.6 2340.1 1420.0 2345.5 C1415.4 2350.9 1406.7 2356.3 1400.0 2360.5 C1393.3 2364.7 1385.8 2367.2 1380.0 2370.5 C1374.2 2373.8 1370.4 2379.2 1365.0 2380.5 C1359.6 2381.8 1352.5 2376.8 1347.5 2378.0 C1342.5 2379.2 1338.8 2383.8 1335.0 2388.0 C1331.2 2392.2 1326.2 2398.8 1325.0 2403.0 C1323.8 2407.2 1327.1 2411.3 1327.5 2413.0"/>
<path d="M1492.5 2328.0 C1490.4 2326.3 1484.6 2321.8 1480.0 2318.0 C1475.4 2314.2 1469.6 2308.0 1465.0 2305.5 C1460.4 2303.0 1456.2 2301.8 1452.5 2303.0 C1448.8 2304.2 1444.2 2308.0 1442.5 2313.0 C1440.8 2318.0 1443.3 2326.8 1442.5 2333.0 C1441.7 2339.2 1441.2 2345.1 1437.5 2350.5 C1433.8 2355.9 1424.6 2360.1 1420.0 2365.5 C1415.4 2370.9 1414.2 2379.2 1410.0 2383.0 C1405.8 2386.8 1400.0 2387.2 1395.0 2388.0 C1390.0 2388.8 1386.2 2387.2 1380.0 2388.0 C1373.8 2388.8 1362.9 2390.5 1357.5 2393.0 C1352.1 2395.5 1348.8 2399.7 1347.5 2403.0 C1346.2 2406.3 1349.6 2411.3 1350.0 2413.0"/>
<path d="M1492.5 2340.5 C1490.4 2339.7 1483.3 2338.0 1480.0 2335.5 C1476.7 2333.0 1475.8 2326.3 1472.5 2325.5 C1469.2 2324.7 1463.3 2327.2 1460.0 2330.5 C1456.7 2333.8 1455.8 2340.1 1452.5 2345.5 C1449.2 2350.9 1443.3 2357.6 1440.0 2363.0 C1436.7 2368.4 1435.8 2373.8 1432.5 2378.0 C1429.2 2382.2 1423.3 2384.2 1420.0 2388.0 C1416.7 2391.8 1415.4 2398.0 1412.5 2400.5 C1409.6 2403.0 1406.2 2403.4 1402.5 2403.0 C1398.8 2402.6 1393.8 2397.6 1390.0 2398.0 C1386.2 2398.4 1382.9 2403.0 1380.0 2405.5 C1377.1 2408.0 1373.8 2411.8 1372.5 2413.0"/>
<path d="M1492.5 2358.0 C1491.2 2357.2 1487.9 2354.7 1485.0 2353.0 C1482.1 2351.3 1478.3 2347.6 1475.0 2348.0 C1471.7 2348.4 1468.3 2351.8 1465.0 2355.5 C1461.7 2359.2 1457.9 2365.5 1455.0 2370.5 C1452.1 2375.5 1450.8 2381.8 1447.5 2385.5 C1444.2 2389.2 1438.8 2390.5 1435.0 2393.0 C1431.2 2395.5 1428.3 2397.2 1425.0 2400.5 C1421.7 2403.8 1416.7 2410.9 1415.0 2413.0"/>
<path d="M1492.5 2379.2 C1490.4 2378.6 1484.6 2374.9 1480.0 2375.5 C1475.4 2376.1 1469.2 2379.7 1465.0 2383.0 C1460.8 2386.3 1457.1 2392.2 1455.0 2395.5 C1452.9 2398.8 1454.2 2400.1 1452.5 2403.0 C1450.8 2405.9 1446.2 2411.3 1445.0 2413.0"/>
<path d="M1492.5 2120.5 C1490.4 2124.7 1482.7 2140.5 1480.0 2145.5 C1477.3 2150.5 1476.9 2149.7 1476.2 2150.5"/>
<path d="M1476.2 2150.5 L1492.5 2153.0"/>
<path d="M1240.0 2057.5 C1244.2 2057.5 1256.7 2057.7 1265.0 2057.5 C1273.3 2057.3 1282.5 2055.8 1290.0 2056.2 C1297.5 2056.7 1304.6 2057.7 1310.0 2060.0 C1315.4 2062.3 1318.3 2066.9 1322.5 2070.0 C1326.7 2073.1 1331.7 2078.3 1335.0 2078.8 C1338.3 2079.2 1340.0 2073.8 1342.5 2072.5 C1345.0 2071.2 1347.5 2069.2 1350.0 2071.2 C1352.5 2073.3 1356.2 2082.7 1357.5 2085.0"/>
<path d="M1375.0 2065.0 C1375.2 2068.3 1377.1 2077.9 1376.2 2085.0 C1375.4 2092.1 1371.0 2103.8 1370.0 2107.5"/>
<path d="M1381.2 2065.0 C1381.0 2069.2 1380.8 2082.5 1380.0 2090.0 C1379.2 2097.5 1376.9 2106.7 1376.2 2110.0"/>
<path d="M1240.0 2025.0 C1242.5 2026.2 1247.5 2031.7 1255.0 2032.5 C1262.5 2033.3 1276.7 2033.8 1285.0 2030.0 C1293.3 2026.2 1299.2 2016.7 1305.0 2010.0 C1310.8 2003.3 1317.1 1998.3 1320.0 1990.0 C1322.9 1981.7 1322.9 1969.2 1322.5 1960.0 C1322.1 1950.8 1318.3 1939.2 1317.5 1935.0"/>
<path d="M860.0 2410.5 C862.5 2409.2 871.2 2404.7 875.0 2403.0 C878.8 2401.3 881.2 2400.9 882.5 2400.5"/>
<path d="M967.5 2393.0 C969.6 2392.2 976.2 2389.2 980.0 2388.0 C983.8 2386.8 988.3 2385.9 990.0 2385.5"/>
<path d="M1025.0 2383.0 C1025.4 2385.1 1026.2 2392.2 1027.5 2395.5 C1028.8 2398.8 1032.1 2400.1 1032.5 2403.0 C1032.9 2405.9 1030.4 2411.3 1030.0 2413.0"/>
<path d="M1065.0 2388.0 C1065.4 2389.7 1068.3 2393.8 1067.5 2398.0 C1066.7 2402.2 1061.2 2410.5 1060.0 2413.0"/>
<path d="M1080.0 2413.0 C1080.8 2411.3 1085.0 2404.9 1085.0 2403.0 C1085.0 2401.1 1080.8 2402.0 1080.0 2401.8"/>
<path d="M872.5 2385.5 C876.2 2385.9 884.6 2386.8 895.0 2388.0 C905.4 2389.2 928.3 2392.2 935.0 2393.0"/>
<path d="M1000.0 1467.0 C1000.6 1457.9 1002.1 1427.8 1003.8 1412.5 C1005.4 1397.2 1006.5 1386.2 1010.0 1375.0 C1013.5 1363.8 1018.3 1353.3 1025.0 1345.0 C1031.7 1336.7 1040.0 1330.4 1050.0 1325.0 C1060.0 1319.6 1075.0 1315.0 1085.0 1312.5 C1095.0 1310.0 1097.5 1309.6 1110.0 1310.0 C1122.5 1310.4 1143.3 1312.9 1160.0 1315.0 C1176.7 1317.1 1194.7 1320.4 1210.0 1322.5 C1225.3 1324.6 1238.7 1326.2 1252.0 1327.5 C1265.3 1328.8 1275.3 1330.8 1290.0 1330.0 C1304.7 1329.2 1325.0 1325.4 1340.0 1322.5 C1355.0 1319.6 1373.3 1314.2 1380.0 1312.5"/>
<path d="M1015.0 1467.0 C1015.8 1457.9 1016.7 1428.7 1020.0 1412.5 C1023.3 1396.3 1027.5 1381.7 1035.0 1370.0 C1042.5 1358.3 1052.5 1349.2 1065.0 1342.5 C1077.5 1335.8 1094.2 1332.5 1110.0 1330.0 C1125.8 1327.5 1140.0 1327.1 1160.0 1327.5 C1180.0 1327.9 1218.3 1331.7 1230.0 1332.5"/>
<ellipse cx="1252" cy="1370" rx="12" ry="7.5" transform="rotate(-8 1252 1370)"/>
<path d="M1545 1336 L1528 1337 Q1517 1340 1518 1347 Q1520 1354 1530 1354 L1545 1353"/>
<path d="M620.0 2092.5 C622.5 2089.6 629.2 2080.0 635.0 2075.0 C640.8 2070.0 647.5 2065.4 655.0 2062.5 C662.5 2059.6 675.8 2058.3 680.0 2057.5"/>
<path d="M570.0 2145.0 C573.8 2140.4 585.0 2125.8 592.5 2117.5 C600.0 2109.2 608.8 2102.1 615.0 2095.0 C621.2 2087.9 624.2 2079.6 630.0 2075.0 C635.8 2070.4 646.7 2068.8 650.0 2067.5"/>
</g>
<path d="M100 1154 L340 1172 L350 1171 L415.5 1118.7 L419.5 1100 L419.5 1075 L438 1075 L438 1088 L445 1098 L460 1102 L480 1105 L602.5 1113.7 L612 1117 L620 1122.5 L687.5 1197.5 L692 1202 L697.5 1205 L872 1218 L929 1222.5 L965 1235 L965 1305 L920 1294.5 L872 1290 L836 1287.5 L652 1289 L597.5 1337.5 L590 1342 L582.5 1343.7 L480 1336 L422.5 1330 L410 1322 L400 1310 L340 1242 L100 1223 Z" fill="#C9C9BA" stroke="#26323a" stroke-width="3.4" stroke-linejoin="round"/>
<path d="M1030 1222 L1046 1232 L1060 1237.5 L1240 1251.5 L1268 1253.5 Q1288 1254 1289.5 1235 L1293.7 1075 L1322.5 1075 L1313 1240 Q1313 1272 1337 1276 L1440 1286 Q1465 1287 1466 1255 L1470 1075 L1500 1075 L1502.5 1250 Q1504 1288 1530 1293 L1550 1298 L1550 1327 L1315 1310 L1290 1312 L1240 1319 L1060 1306 L1045 1304 L1030 1312 Z" fill="#C9C9BA" stroke="#26323a" stroke-width="3.4" stroke-linejoin="round"/>
<path d="M977.5 1075 L977.5 1150 Q975 1198 930 1222 L1062 1236 Q1018 1200 1013 1150 L1013 1075 Z" fill="#C9C9BA" stroke="#26323a" stroke-width="3.4" stroke-linejoin="round"/>
<path d="M966 1365 L966 1350 Q962 1318 922 1295 L1046 1305 Q992 1318 987.5 1350 L987.5 1365 Z" fill="#C9C9BA" stroke="#26323a" stroke-width="3.4" stroke-linejoin="round"/>
<path d="M940.5 1990 L959.5 1990 L961 2010 L968 2028 L978 2040 L915 2040 L932 2030 L939 2010 Z" fill="#C9C9BA" stroke="#26323a" stroke-width="3.4" stroke-linejoin="round"/>
<path d="M538 2003.5 L606 2006.3 L613 2026 L604 2044 L560 2032 L538 2027 Z" fill="#C9C9BA" stroke="#26323a" stroke-width="3.4" stroke-linejoin="round"/>
<path d="M563 2064 L607 2062 L590 2100 L572.5 2129 L554 2121 L559.6 2108.9 L563 2085 Z" fill="#C9C9BA" stroke="#26323a" stroke-width="3.4" stroke-linejoin="round"/>
<path d="M1340 2041.5 L1360 2043.7 Q1378 2040 1392 2040 L1427.5 2043.7 L1470 2056 L1550 2080.5 L1550 2103 L1452.5 2078.7 L1415 2065 L1365 2057.5 L1340 2056 Z" fill="#C9C9BA" stroke="#26323a" stroke-width="3.4" stroke-linejoin="round"/>
<path d="M1146 2388 L1170 2388 L1158 2404 Z" fill="#C9C9BA" stroke="#26323a" stroke-width="3.4" stroke-linejoin="round"/>
<path d="M948 2020 L960 2012 Q962 2040 1000 2050 L1000 2064.5 L948 2064.5 Z" fill="#C9C9BA" stroke="#26323a" stroke-width="3.4" stroke-linejoin="round"/>
<path d="M976.7 1350 L971.8 1455 L955.6 1847 L950 1995" fill="none" stroke="#26323a" stroke-width="25.2" stroke-linejoin="round"/>
<path d="M600 2042.4 L872 2052 L930 2053" fill="none" stroke="#26323a" stroke-width="24.2" stroke-linejoin="round"/>
<path d="M1000 2057 L1035 2057 C1060 2054 1075 2046 1085 2042.5 C1105 2035 1120 2030 1135 2028 L1197 2024.5 L1252 2039 L1360 2050.6 C1375 2048 1385 2047 1395 2048 L1430 2054" fill="none" stroke="#26323a" stroke-width="17.7" stroke-linejoin="round"/>
<path d="M945 2060 L945 2138" fill="none" stroke="#26323a" stroke-width="18.2" stroke-linejoin="round"/>
<path d="M758.5 2060 L758.5 2138" fill="none" stroke="#26323a" stroke-width="18.2" stroke-linejoin="round"/>
<path d="M100 1995.4 L492 2011.7 L560 2016" fill="none" stroke="#26323a" stroke-width="25.2" stroke-linejoin="round"/>
<path d="M100 2199 L480 2105 C505 2098 530 2085 560 2058" fill="none" stroke="#26323a" stroke-width="16.7" stroke-linejoin="round"/>
<path d="M590 2064 C580 2090 560 2130 540 2180 C534 2200 532 2220 532.5 2238 L535 2313 C533 2350 525 2385 516 2420" fill="none" stroke="#26323a" stroke-width="23.2" stroke-linejoin="round"/>
<path d="M100 2297 L492 2208.5 L532 2200" fill="none" stroke="#26323a" stroke-width="22.2" stroke-linejoin="round"/>
<path d="M170 2185 L170 2285" fill="none" stroke="#26323a" stroke-width="18.2" stroke-linejoin="round"/>
<path d="M257.5 2268 L257.5 2420" fill="none" stroke="#26323a" stroke-width="16.2" stroke-linejoin="round"/>
<path d="M170 2285 L170 2420" fill="none" stroke="#26323a" stroke-width="13.2" stroke-linejoin="round"/>
<path d="M136.2 2300 L136.2 2420" fill="none" stroke="#26323a" stroke-width="15.7" stroke-linejoin="round"/>
<path d="M431.7 2222 L431.7 2322" fill="none" stroke="#26323a" stroke-width="11.7" stroke-linejoin="round"/>
<path d="M136 2325.4 L535 2325.4" fill="none" stroke="#26323a" stroke-width="15.9" stroke-linejoin="round"/>
<path d="M1128 2140 L1128 2086 Q1128 2076 1138 2076 L1240 2078.7 L1332 2084 Q1342 2085 1349 2092 L1402.5 2147.5" fill="none" stroke="#26323a" stroke-width="14.2" stroke-linejoin="round"/>
<path d="M1148 2145.5 L1186 2145.5 Q1197 2146 1204 2153 L1252 2209 L1297.5 2250.5" fill="none" stroke="#26323a" stroke-width="17.2" stroke-linejoin="round"/>
<path d="M1440 2068 C1440 2095 1432 2125 1420 2142.5 C1414 2151 1408 2155 1402.5 2160 L1302.5 2253 L1240 2313 L1166 2384 Q1158 2392 1150 2384 L1077.5 2308.6" fill="none" stroke="#26323a" stroke-width="19.2" stroke-linejoin="round"/>
<circle cx="986.2" cy="1264.5" r="70.5" fill="#C9C9BA" stroke="#26323a" stroke-width="1.3"/>
<circle cx="945" cy="2038.7" r="26" fill="#C9C9BA" stroke="#26323a" stroke-width="1.3"/>
<circle cx="578.7" cy="2038.7" r="30.5" fill="#C9C9BA" stroke="#26323a" stroke-width="1.3"/>
<path d="M100 1154 L340 1172 L350 1171 L415.5 1118.7 L419.5 1100 L419.5 1075 L438 1075 L438 1088 L445 1098 L460 1102 L480 1105 L602.5 1113.7 L612 1117 L620 1122.5 L687.5 1197.5 L692 1202 L697.5 1205 L872 1218 L929 1222.5 L965 1235 L965 1305 L920 1294.5 L872 1290 L836 1287.5 L652 1289 L597.5 1337.5 L590 1342 L582.5 1343.7 L480 1336 L422.5 1330 L410 1322 L400 1310 L340 1242 L100 1223 Z" fill="#C9C9BA"/>
<path d="M1030 1222 L1046 1232 L1060 1237.5 L1240 1251.5 L1268 1253.5 Q1288 1254 1289.5 1235 L1293.7 1075 L1322.5 1075 L1313 1240 Q1313 1272 1337 1276 L1440 1286 Q1465 1287 1466 1255 L1470 1075 L1500 1075 L1502.5 1250 Q1504 1288 1530 1293 L1550 1298 L1550 1327 L1315 1310 L1290 1312 L1240 1319 L1060 1306 L1045 1304 L1030 1312 Z" fill="#C9C9BA"/>
<path d="M977.5 1075 L977.5 1150 Q975 1198 930 1222 L1062 1236 Q1018 1200 1013 1150 L1013 1075 Z" fill="#C9C9BA"/>
<path d="M966 1365 L966 1350 Q962 1318 922 1295 L1046 1305 Q992 1318 987.5 1350 L987.5 1365 Z" fill="#C9C9BA"/>
<path d="M940.5 1990 L959.5 1990 L961 2010 L968 2028 L978 2040 L915 2040 L932 2030 L939 2010 Z" fill="#C9C9BA"/>
<path d="M538 2003.5 L606 2006.3 L613 2026 L604 2044 L560 2032 L538 2027 Z" fill="#C9C9BA"/>
<path d="M563 2064 L607 2062 L590 2100 L572.5 2129 L554 2121 L559.6 2108.9 L563 2085 Z" fill="#C9C9BA"/>
<path d="M1340 2041.5 L1360 2043.7 Q1378 2040 1392 2040 L1427.5 2043.7 L1470 2056 L1550 2080.5 L1550 2103 L1452.5 2078.7 L1415 2065 L1365 2057.5 L1340 2056 Z" fill="#C9C9BA"/>
<path d="M1146 2388 L1170 2388 L1158 2404 Z" fill="#C9C9BA"/>
<path d="M948 2020 L960 2012 Q962 2040 1000 2050 L1000 2064.5 L948 2064.5 Z" fill="#C9C9BA"/>
<path d="M976.7 1350 L971.8 1455 L955.6 1847 L950 1995" fill="none" stroke="#C9C9BA" stroke-width="22" stroke-linejoin="round"/>
<path d="M600 2042.4 L872 2052 L930 2053" fill="none" stroke="#C9C9BA" stroke-width="21" stroke-linejoin="round"/>
<path d="M1000 2057 L1035 2057 C1060 2054 1075 2046 1085 2042.5 C1105 2035 1120 2030 1135 2028 L1197 2024.5 L1252 2039 L1360 2050.6 C1375 2048 1385 2047 1395 2048 L1430 2054" fill="none" stroke="#C9C9BA" stroke-width="14.5" stroke-linejoin="round"/>
<path d="M945 2060 L945 2138" fill="none" stroke="#C9C9BA" stroke-width="15" stroke-linejoin="round"/>
<path d="M758.5 2060 L758.5 2138" fill="none" stroke="#C9C9BA" stroke-width="15" stroke-linejoin="round"/>
<path d="M100 1995.4 L492 2011.7 L560 2016" fill="none" stroke="#C9C9BA" stroke-width="22" stroke-linejoin="round"/>
<path d="M100 2199 L480 2105 C505 2098 530 2085 560 2058" fill="none" stroke="#C9C9BA" stroke-width="13.5" stroke-linejoin="round"/>
<path d="M590 2064 C580 2090 560 2130 540 2180 C534 2200 532 2220 532.5 2238 L535 2313 C533 2350 525 2385 516 2420" fill="none" stroke="#C9C9BA" stroke-width="20" stroke-linejoin="round"/>
<path d="M100 2297 L492 2208.5 L532 2200" fill="none" stroke="#C9C9BA" stroke-width="19" stroke-linejoin="round"/>
<path d="M170 2185 L170 2285" fill="none" stroke="#C9C9BA" stroke-width="15" stroke-linejoin="round"/>
<path d="M257.5 2268 L257.5 2420" fill="none" stroke="#C9C9BA" stroke-width="13" stroke-linejoin="round"/>
<path d="M170 2285 L170 2420" fill="none" stroke="#C9C9BA" stroke-width="10" stroke-linejoin="round"/>
<path d="M136.2 2300 L136.2 2420" fill="none" stroke="#C9C9BA" stroke-width="12.5" stroke-linejoin="round"/>
<path d="M431.7 2222 L431.7 2322" fill="none" stroke="#C9C9BA" stroke-width="8.5" stroke-linejoin="round"/>
<path d="M136 2325.4 L535 2325.4" fill="none" stroke="#C9C9BA" stroke-width="12.7" stroke-linejoin="round"/>
<path d="M1128 2140 L1128 2086 Q1128 2076 1138 2076 L1240 2078.7 L1332 2084 Q1342 2085 1349 2092 L1402.5 2147.5" fill="none" stroke="#C9C9BA" stroke-width="11" stroke-linejoin="round"/>
<path d="M1148 2145.5 L1186 2145.5 Q1197 2146 1204 2153 L1252 2209 L1297.5 2250.5" fill="none" stroke="#C9C9BA" stroke-width="14" stroke-linejoin="round"/>
<path d="M1440 2068 C1440 2095 1432 2125 1420 2142.5 C1414 2151 1408 2155 1402.5 2160 L1302.5 2253 L1240 2313 L1166 2384 Q1158 2392 1150 2384 L1077.5 2308.6" fill="none" stroke="#C9C9BA" stroke-width="16" stroke-linejoin="round"/>
<circle cx="986.2" cy="1264.5" r="69.5" fill="#C9C9BA"/>
<circle cx="945" cy="2038.7" r="25" fill="#C9C9BA"/>
<circle cx="578.7" cy="2038.7" r="29.5" fill="#C9C9BA"/>
<circle cx="986.2" cy="1264.5" r="59" fill="#FEFEE2" stroke="#26323a" stroke-width="1.6"/>
<circle cx="945" cy="2038.7" r="17" fill="#FEFEE2" stroke="#26323a" stroke-width="1.6"/>
<circle cx="578.7" cy="2038.7" r="22.5" fill="#FEFEE2" stroke="#26323a" stroke-width="1.6"/>
<polygon points="570,2071 593,2070 577,2104" fill="#FEFEE2" stroke="#26323a" stroke-width="1.2"/>
<polygon points="548,2014 566,2016 552,2024" fill="#FEFEE2" stroke="#26323a" stroke-width="1.2"/>
<path d="M100 1983.3 L480 2002 L606 2006 L612.5 1900 L613.7 1847 L615 1824 L672 1775 Q700 1754 728 1778 L760 1813.7 L872 1817.5 L942.5 1820.5" fill="none" stroke="#15181a" stroke-width="1.6"/>
<g fill="none" stroke="#4f5d66" stroke-width="1">
<circle cx="1357" cy="1723.5" r="14"/><circle cx="1357" cy="1723.5" r="8.5"/><path d="M1354 1719.500 v8 M1360 1719.500 v8 M1354 1723.500 h6"/>
<circle cx="1384.7" cy="1693.2" r="7.5"/><circle cx="1384.3" cy="1716.4" r="7"/>
</g>
<rect x="1347" y="1754" width="46.8" height="31.6" fill="url(#hat)" stroke="#4f5d66" stroke-width="0.8"/>
<rect x="1340.5" y="1786" width="30.7" height="8.2" fill="url(#hat)" stroke="#4f5d66" stroke-width="0.8"/>
<polygon points="1335,1929 1361,1923 1362,1931 1337,1941" fill="url(#hat)" stroke="#4f5d66" stroke-width="0.8"/>
<polygon points="1268,1836 1276,1833 1279,1845 1271,1847" fill="url(#hat)" stroke="#4f5d66" stroke-width="0.8"/>
<g fill="none" stroke="#4f5d66" stroke-width="1">
<g transform="rotate(20 1302 1879)"><rect x="1299" y="1876" width="6" height="6"/><path d="M1299 1876 L1305 1882 M1305 1876 L1299 1882"/></g>
<g transform="rotate(0 1354.5 1866.5)"><rect x="1352" y="1864" width="5" height="5"/><path d="M1352 1864 L1357 1869 M1357 1864 L1352 1869"/></g>
<path d="M1352 1872 h5 v4 h-5 z M1352 1880 h5 M1352 1886 h5 M1352 1892 h5 v5 h-5 z M1360 1885 h4 v12 h-4 z"/>
</g>
<g fill="none" stroke="#3e4d1c" stroke-width="1">
<g transform="rotate(35 631 1684)"><rect x="611" y="1664" width="40" height="40" fill="url(#hatg)"/><rect x="624" y="1678" width="9" height="8" fill="#B2DE46"/></g>
<ellipse cx="687" cy="1715" rx="31" ry="24" transform="rotate(-22 687 1715)"/>
<g transform="rotate(4 574.5 1698)"><rect x="569" y="1686" width="11" height="24"/><path d="M569 1686 L580 1710 M580 1686 L569 1710"/></g>
<path d="M512 1716 Q555 1708 598 1724 L596 1732 Q555 1720 515 1727 Z" fill="url(#hatg)"/>
<circle cx="614" cy="1711" r="6.500"/><circle cx="614" cy="1711" r="2.500"/><path d="M608 1716 L610 1745 L606 1800 L600 1835 M620 1716 L625 1745 Q612 1775 612 1810"/>
<g transform="rotate(15 748.5 1779.5)"><rect x="741" y="1772" width="15" height="15"/><path d="M741 1772 L756 1787 M756 1772 L741 1787"/></g>
<g transform="rotate(2 780 1799)"><rect x="770" y="1792" width="20" height="14"/><path d="M770 1792 L790 1806 M790 1792 L770 1806"/></g>
<polygon points="148,1800 154,1795 157,1805 151,1809" fill="url(#hatg)"/>
<g transform="rotate(0 518 1987.5)"><rect x="514" y="1985" width="8" height="5"/><path d="M514 1985 L522 1990 M522 1985 L514 1990"/></g>
<g transform="rotate(0 136.5 1138)"><rect x="131" y="1135" width="11" height="6"/><path d="M131 1135 L142 1141 M142 1135 L131 1141"/></g>
<g transform="rotate(0 229.5 1147)"><rect x="224" y="1144" width="11" height="6"/><path d="M224 1144 L235 1150 M235 1144 L224 1150"/></g>
<g transform="rotate(0 871.5 1300)"><rect x="868" y="1293" width="7" height="14"/><path d="M868 1293 L875 1307 M875 1293 L868 1307"/></g>
<g transform="rotate(0 912 1299)"><rect x="908" y="1296" width="8" height="6"/><path d="M908 1296 L916 1302 M916 1296 L908 1302"/></g>
<path d="M620 1838 Q618 1815 640 1800 L690 1772 Q712 1766 733 1793 L757 1820" stroke="#55651f"/>
<path d="M640 1850 Q640 1822 668 1806 Q698 1790 722 1812 L748 1838" stroke="#6a7a2a"/>
<path d="M621 1850 L621 2000 Q622 2022 642 2025 L900 2031 Q928 2030 931 2012 L932 1985" stroke="#55651f"/>
<path d="M632 1860 L632 1995 Q634 2012 650 2014 L870 2020" stroke="#6a7a2a"/>
<path d="M868 1965 Q905 1962 918 1975 Q928 1990 915 2010 Q900 2022 860 2020 L700 2015 Q650 2012 645 1985 L645 1900" stroke="#6a7a2a"/>
<path d="M870 1975 Q900 1973 906 1985 Q910 2000 890 2006 L870 2007 Q850 2003 862 1995 Q880 1990 870 1986" stroke="#6a7a2a"/>
<path d="M612 1860 L604 1900 L600 2000" stroke="#55651f"/>
</g>
<g fill="none" stroke="#4a5860" stroke-width="1" stroke-opacity="0.85">
<path d="M109 1174 L345 1192 L395 1160 L418 1135 M109 1203 L330 1221 L350 1222 M109 1212 L338 1231 L400 1292 M222 1194 L350 1203 M225 1200 L350 1208.500"/>
<path d="M420 1130 L445 1125 L600 1136 M350 1180 L405 1140"/>
<path d="M1060 1246 L1260 1263 M1060 1296 L1240 1309 M1085 1249 L1085 1290 M1092 1250 L1260 1264 L1258 1308 M1325 1284 L1545 1306 M1325 1298 L1545 1316"/>
<path d="M985 1090 L984 1170 L977 1194 L1012 1194 L1004 1170 L1003 1090"/>
<path d="M968 1330 L976 1352 L984 1330 Z M936 2066 L945 2090 L954 2066 Z"/>
<path d="M860 1228 L925 1232 M860 1280 L915 1285 M700 1215 L860 1227"/>
<path d="M109 1990 L490 2007 M109 2001 L490 2018 M300 2010 L330 2030 M560 2030 L520 2022"/>
<path d="M625 2038 L870 2047 M625 2049 L715 2052 M810 2056 L925 2059"/>
<path d="M1010 2057 L1035 2057 Q1085 2042 1135 2028 L1197 2024.500 L1252 2039 L1360 2050.600 L1395 2048 L1430 2054 L1540 2088"/>
<path d="M109 2196 L480 2104 M109 2295 L490 2207"/>
<path d="M945 2096 L945 2132 M758.5 2068 L758.5 2132 M755 2068 L755 2110 M762 2068 L762 2110" stroke-width="1.6"/>
<path d="M1128 2095 L1128 2130 M1160 2145.500 L1184 2145.500 M1210 2162 L1248 2204 M1310 2244 L1396 2164 M1170 2378 L1236 2315 M1090 2322 L1146 2378 M1250 2302 L1298 2257" stroke="#7d8b8c" stroke-width="2.4"/>
</g>
<g fill="none" stroke="#4a5860" stroke-width="1">
<rect x="1061" y="1253" width="11" height="24" fill="url(#hat)" transform="rotate(4 1066 1265)"/>
<rect x="878" y="1246" width="9" height="20" fill="url(#hat)" transform="rotate(4 882 1256)"/>
<path d="M1075 1247 L1150 1253 M1160 1254 L1212 1258 M1222 1259 L1258 1262 M1070 1290 L1145 1296 M1155 1297 L1210 1301 M1220 1302 L1250 1304" stroke-width="2.600" stroke="#b9baa8"/>
<g transform="rotate(25 1059 1226.5)"><rect x="1054" y="1222" width="10" height="9"/><path d="M1054 1222 L1064 1231 M1064 1222 L1054 1231"/></g>
<g transform="rotate(0 1018.5 1164.5)"><rect x="1015" y="1160" width="7" height="9"/><path d="M1015 1160 L1022 1169 M1022 1160 L1015 1169"/></g>
<g transform="rotate(4 1159 1228)"><rect x="1130" y="1222" width="58" height="12"/><path d="M1130 1222 L1188 1234 M1188 1222 L1130 1234"/></g>
<g transform="rotate(3 1260.5 1244)"><rect x="1253" y="1240" width="15" height="8"/><path d="M1253 1240 L1268 1248 M1268 1240 L1253 1248"/></g>
<g transform="rotate(10 1189.5 1239.5)"><rect x="1186" y="1236" width="7" height="7"/><path d="M1186 1236 L1193 1243 M1193 1236 L1186 1243"/></g>
</g>
<g fill="none" stroke="#4a5860" stroke-width="0.9">
<g transform="rotate(4 545 1315)"><rect x="512" y="1310.5" width="66" height="8.500" fill="url(#hat)"/><path d="M505 1306 h80 M505 1323 h84 M420 1300 h60 M418 1306 h70" stroke-dasharray="5 2"/><rect x="466" y="1303" width="11" height="7" fill="url(#hat)"/></g>
<g transform="rotate(8 590 1131)"><rect x="574" y="1127" width="30" height="7" fill="url(#hat)"/><path d="M450 1131 h120" stroke-dasharray="4 2"/></g>
<g transform="rotate(-38 634 1128)"><rect x="627" y="1124" width="15" height="7"/><path d="M627 1124 l15 7 M642 1124 l-15 7"/></g>
<path d="M598 1340 L640 1300 L652 1296 M590 1332 L628 1296 M620 1130 L690 1206"/>
</g>
<polygon points="109,2052 158,2052 158,2047.5 182,2047.5 189,2055 182,2062 182,2092 150,2092 150,2097 109,2097" fill="url(#hat)" stroke="#4f5d66" stroke-width="0.8"/>
<polygon points="294,2035 328,2035 328,2096 274,2096 274,2055 294,2055" fill="url(#hat)" stroke="#4f5d66" stroke-width="0.8"/>
<polygon points="109,2248 150,2243 154,2273 109,2283" fill="url(#hat)" stroke="#4f5d66" stroke-width="0.8"/>
<polygon points="109,2350 118,2350 118,2395 109,2395" fill="url(#hat)" stroke="#4f5d66" stroke-width="0.8"/>
<g fill="none" stroke="#4f5d66" stroke-width="1">
<path d="M242 2030 Q242 2020 252 2020 L330 2022 Q340 2022 340 2032 L338 2108 Q338 2116 328 2116 L250 2114 Q240 2114 240 2104 Z"/>
<path d="M252 2030 h30 a5 5 0 0 1 0 10 h-30 a5 5 0 0 1 0 -10 z M256 2047 h30 v8 M256 2047 a5 5 0 0 0 0 10 h14"/>
<path d="M264 2090 L264 2100 L322 2104 M109 2110 L215 2105 L216 2070 L208 2068 L208 2015 M109 2017 L200 2020 L200 2060 L196 2062 L196 2090 L160 2100 L109 2102"/>
<path d="M109 2115 L210 2118 Q218 2118 218 2126 L217 2160 M225 2013 L225 2120 M231 2013 L231 2038 L243 2040 M224 2160 L226 2126 Q226 2056 232 2052 L240 2052"/>
<g transform="rotate(-14 192 2217)"><rect x="178" y="2206" width="28" height="22"/><path d="M178 2206 L206 2228 M206 2206 L178 2228"/></g>
<g transform="rotate(-14 224 2230)"><rect x="211" y="2216" width="26" height="28"/><path d="M211 2216 L237 2244 M237 2216 L211 2244"/></g>
<g transform="rotate(-14 362 2172)"><rect x="351" y="2160" width="22" height="24"/><path d="M351 2160 L373 2184 M373 2160 L351 2184"/></g>
<g transform="rotate(-14 408 2162)"><rect x="398" y="2154" width="20" height="16"/><path d="M398 2154 L418 2170 M418 2154 L398 2170"/></g>
<g transform="rotate(-14 438 2138)"><rect x="430" y="2128" width="16" height="20"/><path d="M430 2128 L446 2148 M446 2128 L430 2148"/></g>
<g transform="rotate(-14 124 2220)"><rect x="118" y="2212" width="12" height="16"/><path d="M118 2212 L130 2228 M130 2212 L118 2228"/></g>
<g transform="rotate(-14 432 2195)"><rect x="428" y="2182" width="8" height="26"/><path d="M428 2182 L436 2208 M436 2182 L428 2208"/></g>
<g transform="rotate(-14 310 2194)"><rect x="300" y="2185" width="20" height="18"/><path d="M300 2185 L320 2203 M320 2185 L300 2203"/></g>
<g transform="rotate(0 224 2307)"><rect x="204" y="2297" width="40" height="20"/><path d="M204 2297 L244 2317 M244 2297 L204 2317"/></g>
<g transform="rotate(0 159 2325.5)"><rect x="150" y="2322" width="18" height="7"/><path d="M150 2322 L168 2329 M168 2322 L150 2329"/></g>
<g transform="rotate(0 180 2325.5)"><rect x="172" y="2322" width="16" height="7"/><path d="M172 2322 L188 2329 M188 2322 L172 2329"/></g>
<g transform="rotate(0 217 2299)"><rect x="213" y="2295" width="8" height="8"/><path d="M213 2295 L221 2303 M221 2295 L213 2303"/></g>
<g transform="rotate(0 241 2345)"><rect x="235" y="2336" width="12" height="18"/><path d="M235 2336 L247 2354 M247 2336 L235 2354"/></g>
<g transform="rotate(0 184 2380)"><rect x="178" y="2374" width="12" height="12"/><path d="M178 2374 L190 2386 M190 2374 L178 2386"/></g>
<g transform="rotate(-14 193 2361)"><rect x="188" y="2357" width="10" height="8"/><path d="M188 2357 L198 2365 M198 2357 L188 2365"/></g>
<g transform="rotate(0 278 2154)"><rect x="275" y="2150" width="6" height="8"/><path d="M275 2150 L281 2158 M281 2150 L275 2158"/></g>
<g transform="rotate(0 454 2101)"><rect x="449" y="2092" width="10" height="18"/><path d="M449 2092 L459 2110 M459 2092 L449 2110"/></g>
</g>
<g fill="none" stroke="#8a9060" stroke-width="1.1">
<rect x="650" y="2150" width="102.500" height="156" rx="14"/><rect x="766" y="2150" width="171.500" height="156" rx="14"/>
<path d="M966 2150 L1108 2150 Q1122 2150 1117 2163 L1066 2290 Q1060 2306 1044 2306 L966 2306 Q952.5 2306 952.5 2292 L952.5 2164 Q952.5 2150 966 2150 Z"/>
<path d="M690 2143 L745 2143 M775 2143 L925 2143 M962 2143 L1110 2143 M775 2312 L925 2312 M962 2312 L1040 2312" stroke="#a7ab70" stroke-width="2.600"/>
<path d="M945 2160 L945 2296 M759 2160 L759 2296" stroke="#a7ab70" stroke-width="2.600"/>
<path d="M672 2147 L556 2262 M664 2158 Q650 2170 650 2190 M646 2200 Q610 2210 585 2250 Q560 2275 548 2290"/>
<path d="M660 2318 L690 2318 M700 2318 L785 2318 M795 2318 L820 2318 M830 2318 L1068 2318 M912 2318 L912 2328 L935 2328 Q952 2328 952 2318 M912 2328 L912 2338 L944 2338"/>
</g>
<g fill="url(#haty)" stroke="#b5b87a" stroke-width="0.6" fill-opacity="0.9">
<rect x="658.7" y="2155.5" width="90" height="62.5"/>
<rect x="658.7" y="2235.5" width="90" height="67.5"/>
<rect x="772.5" y="2155" width="140" height="63"/>
<rect x="772.5" y="2235.5" width="140" height="60.5"/>
<rect x="976" y="2159" width="34" height="16.5"/>
<rect x="976" y="2198" width="26.5" height="17.5"/>
<rect x="976" y="2236.7" width="32.7" height="16.3"/>
<rect x="1013.7" y="2236.7" width="40" height="16.3"/>
<rect x="976" y="2275.5" width="34" height="16.2"/>
<rect x="1013.7" y="2275.5" width="40" height="16.2"/>
<rect x="1075" y="2159" width="38" height="16.5"/>
<rect x="1013.7" y="2159" width="46.3" height="16.5"/>
<polygon points="549,2290 575,2288 590,2305 575,2345 568,2388 540,2378 549,2320"/>
</g>
<g fill="url(#hat)" stroke="#4f5d66" stroke-width="0.8">
<rect x="615" y="2306" width="12.500" height="12" transform="rotate(8 621 2312)"/><rect x="611" y="2325.5" width="20" height="10"/><rect x="603.7" y="2343" width="26" height="10"/><rect x="620" y="2365.5" width="8" height="14" transform="rotate(-25 624 2372)"/>
<rect x="699" y="2046" width="22" height="8" transform="rotate(2 710 2050)"/><rect x="657" y="2070" width="13" height="10" transform="rotate(-30 663 2075)"/><rect x="727" y="2055" width="12" height="7"/>
<rect x="761" y="2068" width="17" height="22" fill-opacity="0.7"/>
<polygon points="1453,2082 1492,2090 1490,2096 1451,2088"/><rect x="1446" y="2094" width="12" height="20" transform="rotate(8 1452 2104)"/>
</g>
<g fill="none" stroke="#4f5d66" stroke-width="1">
<path d="M618 2290 Q606 2270 622 2270 Q636 2274 632 2292 M600 2300 L606 2420 M640 2300 L648 2420 M560 2400 L600 2420 M620 2390 Q612 2400 625 2408 Q640 2400 628 2390"/>
<g transform="rotate(0 635.5 2384.5)"><rect x="632" y="2380" width="7" height="9"/><path d="M632 2380 L639 2389 M639 2380 L632 2389"/></g>
<g transform="rotate(15 554 2402)"><rect x="543" y="2398" width="22" height="8"/><path d="M543 2398 L565 2406 M565 2398 L543 2406"/></g>
<g transform="rotate(0 551 2415)"><rect x="548" y="2412" width="6" height="6"/><path d="M548 2412 L554 2418 M554 2412 L548 2418"/></g>
<g transform="rotate(20 1367.5 2141.5)"><rect x="1363" y="2137" width="9" height="9"/><path d="M1363 2137 L1372 2146 M1372 2137 L1363 2146"/></g>
<g transform="rotate(20 1380.5 2160.5)"><rect x="1378" y="2158" width="5" height="5"/><path d="M1378 2158 L1383 2163 M1383 2158 L1378 2163"/></g>
<g transform="rotate(0 1318 2346)"><rect x="1316" y="2344" width="4" height="4"/><path d="M1316 2344 L1320 2348 M1320 2344 L1316 2348"/></g>
<g transform="rotate(-20 1297 2206)"><rect x="1288" y="2195" width="18" height="22"/><path d="M1288 2195 L1306 2217 M1306 2195 L1288 2217"/></g>
<g transform="rotate(20 1314 2218)"><rect x="1310" y="2214" width="8" height="8"/><path d="M1310 2214 L1318 2222 M1318 2214 L1310 2222"/></g>
<g transform="rotate(-25 1267 2247)"><rect x="1263" y="2240" width="8" height="14"/><path d="M1263 2240 L1271 2254 M1271 2240 L1263 2254"/></g>
<g transform="rotate(-25 1275 2358)"><rect x="1268" y="2354" width="14" height="8"/><path d="M1268 2354 L1282 2362 M1282 2354 L1268 2362"/></g>
<g transform="rotate(30 1296 2348)"><rect x="1290" y="2342" width="12" height="12"/><path d="M1290 2342 L1302 2354 M1302 2342 L1290 2354"/></g>
<g transform="rotate(-30 1323 2359)"><rect x="1318" y="2355" width="10" height="8"/><path d="M1318 2355 L1328 2363 M1328 2355 L1318 2363"/></g>
<g transform="rotate(-25 1248 2379.5)"><rect x="1238" y="2375" width="20" height="9"/><path d="M1238 2375 L1258 2384 M1258 2375 L1238 2384"/></g>
<g transform="rotate(30 1231 2254)"><rect x="1225" y="2248" width="12" height="12"/><path d="M1225 2248 L1237 2260 M1237 2248 L1225 2260"/></g>
<g transform="rotate(0 1075.5 2336.5)"><rect x="1075" y="2336" width="1" height="1"/><path d="M1075 2336 L1076 2337 M1076 2336 L1075 2337"/></g>
<path d="M1490 2092 L1477 2152 L1492 2130 M1477 2152 L1492 2156"/>
</g>
<polygon points="983.7,1453 1240,1456 1473.7,1461 1474.5,1550 1472,1566 1465,1582 1447,1605 1425,1621 1402.5,1635 1365,1650 1335,1658.7 1252,1655 979.5,1642.5 977.5,1595" fill="none" stroke="#111" stroke-width="3.3" stroke-dasharray="6.4 2.8"/>
<polygon points="680,2137 1147.5,2137.5 1080,2288 1079,2294 1082.5,2300.5 1072.5,2316.7 1072.5,2382.5 646,2382 645,2290 636,2265.5 629,2266 607.5,2280.5 571,2393 537.5,2380.5 547.5,2313 545,2285 542,2265.5 672,2140" fill="none" stroke="#111" stroke-width="3.3" stroke-dasharray="6.4 2.8"/>
<path d="M434 1075 C436 1092 444 1100 462 1106 L520 1119 L565 1128 C585 1133 592 1142 598 1152 L644 1206 C660 1228 690 1245 720 1250 L760 1255 L872 1263 L1252 1296 L1300 1296 C1345 1296 1400 1272 1440 1237 C1462 1215 1480 1180 1485 1130 L1486 1075" fill="none" stroke="#6D8387" stroke-width="10.5" stroke-linejoin="round"/>
<g transform="rotate(48.4 620 1180)"><rect x="578.3" y="1167.6" width="83.4" height="24.8" rx="12.4" fill="#fff" stroke="#6D8387" stroke-width="6.8"/></g>
<path d="M640 1180 L686 1222 L712 1226" fill="none" stroke="#111" stroke-width="5.2" stroke-dasharray="5.2 5.2"/>
<path d="M681 1177.5 L659 1197.5" stroke="#111" stroke-width="1.6"/>
<path d="M795 1237 L872 1241 L912 1241.7 C950 1243 976 1268 976.3 1308 L976 1330 L970.5 1455 L953.7 1847 L950 1985 C950 2030 935 2050 905 2050 L860 2048.7 L800 2047.3" fill="none" stroke="#04E4A4" stroke-width="9" stroke-linejoin="round"/>
<g transform="rotate(2.5 754 1230.5)"><rect x="713.4" y="1215.8" width="81.2" height="29.5" rx="14.7" fill="#fff" stroke="#04E4A4" stroke-width="8.2"/></g>
<g transform="rotate(2.5 962 1636)"><rect x="947.4" y="1595.7" width="29.2" height="80.6" rx="14.6" fill="#fff" stroke="#04E4A4" stroke-width="8.8"/></g>
<g transform="rotate(2 761 2044)"><rect x="720" y="2029" width="82" height="30" rx="15" fill="#fff" stroke="#04E4A4" stroke-width="8"/></g>
<rect x="676.6" y="2038.1" width="8.8" height="9.2" fill="#04E4A4"/>
<rect x="694" y="2038.8" width="9" height="9.2" fill="#04E4A4"/>
<rect x="712" y="2039.4" width="8" height="9.2" fill="#04E4A4"/>
<path d="M586.3 2059.6 L613.5 2036.3 L612.4 2050.3 Q622 2046 632.6 2043.3 Q647 2039.5 662 2036.3 L662.6 2047 Q650 2049 638.2 2052.3 Q628 2055.5 620 2060.1 L621.4 2070 Z" fill="#04E4A4"/>
<rect x="100" y="2384" width="190" height="36" fill="url(#fade)"/>
</g>
<rect x="107.3" y="1083.4" width="1435" height="1331.7" rx="44" ry="44" fill="none" stroke="#04E4A4" stroke-width="4.8"/>
<polygon points="131,1195 152.5,1182.500 152.5,1207.500" fill="#111"/>
<text x="161" y="1203.7" font-size="24.2" fill="#151515" letter-spacing="0.7" stroke="#151515" stroke-width="0.75">往橫琴方向</text>
<text x="161" y="1230" font-size="22.1" fill="#151515">Em direcção a Hengqin</text>
<text x="161" y="1257.5" font-size="22.1" fill="#151515" font-style="italic">To Hengqin</text>
<text x="422.3" y="1135" font-size="24.2" fill="#151515" transform="rotate(7 422.3 1135)" stroke="#151515" stroke-width="0.75">輕軌氹仔段</text>
<text x="417.9" y="1163.4" font-size="22.1" fill="#151515" transform="rotate(6.3 417.9 1163.4)">Segmento da</text>
<text x="417.9" y="1189.3" font-size="22.1" fill="#151515" transform="rotate(6.3 417.9 1189.3)">Taipa do Metro Ligeiro</text>
<text x="413.4" y="1217.9" font-size="22.1" fill="#151515" font-style="italic" transform="rotate(6 413.4 1217.9)">LRT - The Taipa Station</text>
<text x="422.3" y="1272.5" font-size="24.6" fill="#151515" transform="rotate(3.6 422.3 1272.5)" stroke="#151515" stroke-width="0.75">蓮花口岸</text>
<text x="420.5" y="1298.2" font-size="22.1" fill="#151515" transform="rotate(3.6 420.5 1298.2)">Posto Fronteiriço</text>
<text x="418.7" y="1324.1" font-size="22.1" fill="#151515" transform="rotate(3.5 418.7 1324.1)">da Flor de Lótus</text>
<text x="419.6" y="1352.7" font-size="22.1" fill="#151515" font-style="italic" transform="rotate(3.5 419.6 1352.7)">Lotus Checkpoint</text>
<text x="687.5" y="1127.3" font-size="21.6" fill="#151515" stroke="#151515" stroke-width="0.75">步行連接</text>
<text x="687.5" y="1152.5" font-size="22.1" fill="#151515">Articulação pedonal</text>
<text x="687.5" y="1179" font-size="22.1" fill="#151515" font-style="italic">Pedestrian Connecting</text>
<text x="687.5" y="1205" font-size="22.1" fill="#151515" font-style="italic">Facility</text>
<text x="1068.7" y="1206.9" font-size="21.8" fill="#151515" stroke="#151515" stroke-width="0.75">蓮花路</text>
<text x="1066" y="1227.5" font-size="22.1" fill="#151515" font-style="italic" transform="rotate(3.4 1066 1227.5)">Estrada da Flor de Lótus</text>
<line x1="1003.7" y1="1290.5" x2="1046" y2="1335" stroke="#111" stroke-width="1.6"/>
<text x="1055" y="1349" font-size="21.7" fill="#151515" stroke="#151515" stroke-width="0.75">蓮花圓形地</text>
<text x="1055" y="1375" font-size="22.1" fill="#151515" font-style="italic">Rotunda da</text>
<text x="1055" y="1400" font-size="22.1" fill="#151515" font-style="italic">Flor De Lotus</text>
<text x="924" y="1406" font-size="21.6" fill="#151515" transform="rotate(-87.6 924 1406)" text-anchor="end" stroke="#151515" stroke-width="0.75">路氹連貫公路</text>
<text x="954.5" y="1346" font-size="25" fill="#151515" font-style="italic" transform="rotate(-87.6 954.5 1346)" text-anchor="end">Estrada do Istmo</text>
<text x="1430.4" y="1296" font-size="21.5" fill="#151515" transform="rotate(-90 1430.4 1296)" stroke="#fff" stroke-width="4.5" stroke-linejoin="round">體育館大馬路</text>
<text x="1430.4" y="1296" font-size="21.5" fill="#151515" transform="rotate(-90 1430.4 1296)" stroke="#151515" stroke-width="0.75">體育館大馬路</text>
<text x="1455" y="1299" font-size="22.1" fill="#151515" font-style="italic" transform="rotate(-90 1455 1299)" stroke="#fff" stroke-width="4.5" stroke-linejoin="round">Avenida da</text>
<text x="1455" y="1299" font-size="22.1" fill="#151515" font-style="italic" transform="rotate(-90 1455 1299)">Avenida da</text>
<text x="1481" y="1299" font-size="22.1" fill="#151515" font-style="italic" transform="rotate(-90 1481 1299)" stroke="#fff" stroke-width="4.5" stroke-linejoin="round">Nave Desportiva</text>
<text x="1481" y="1299" font-size="22.1" fill="#151515" font-style="italic" transform="rotate(-90 1481 1299)">Nave Desportiva</text>
<text x="1102.5" y="1512.7" font-size="24.3" fill="#151515" stroke="#151515" stroke-width="0.75">離島醫療綜合體</text>
<text x="1102.5" y="1543.7" font-size="22.1" fill="#151515">Complexo de Cuidados de</text>
<text x="1102.5" y="1568.7" font-size="22.1" fill="#151515">Saúde das Ilhas</text>
<text x="1102.5" y="1600" font-size="22.1" fill="#151515" font-style="italic">Islands District Health</text>
<text x="1102.5" y="1626" font-size="22.1" fill="#151515" font-style="italic">Services Complex</text>
<text x="428" y="1536.4" font-size="24.3" fill="#151515" stroke="#151515" stroke-width="0.75">高爾夫球場</text>
<text x="426" y="1569" font-size="22.1" fill="#151515">Campo do golfo</text>
<text x="427" y="1597.5" font-size="22.1" fill="#151515" font-style="italic">Golf course</text>
<line x1="582.5" y1="1792.5" x2="624.5" y2="1837.5" stroke="#111" stroke-width="1.6"/>
<text x="485" y="1753.2" font-size="24.6" fill="#151515" stroke="#151515" stroke-width="0.75">路環小型賽車場</text>
<text x="485" y="1782.5" font-size="22.1" fill="#151515" font-style="italic">Kartódromo de Coloane</text>
<text x="1041" y="1743.7" font-size="23.5" fill="#151515" stroke="#151515" stroke-width="0.75">水塘</text>
<text x="1041" y="1772.5" font-size="22.1" fill="#151515">Reservatório</text>
<text x="1041" y="1801" font-size="22.1" fill="#151515" font-style="italic">Reservoir</text>
<line x1="1000" y1="1997" x2="955" y2="2038.7" stroke="#111" stroke-width="1.6"/>
<text x="1006" y="1939.8" font-size="21.7" fill="#151515" stroke="#151515" stroke-width="0.75">石排灣圓形地</text>
<text x="1006" y="1970" font-size="22.1" fill="#151515" font-style="italic">Rotunda de</text>
<text x="1006" y="1995" font-size="22.1" fill="#151515" font-style="italic">Seac Pai Van</text>
<text x="807.5" y="2079.8" font-size="21.7" fill="#151515" stroke="#151515" stroke-width="0.75">石排灣馬路</text>
<text x="806" y="2104" font-size="22.1" fill="#151515" font-style="italic" transform="rotate(2.2 806 2104)">Estrada de Seac Pai Van</text>
<text x="686.2" y="2180.5" font-size="24.3" fill="#151515" stroke="#151515" stroke-width="0.75">石排灣公共房屋群</text>
<text x="686" y="2208" font-size="22.1" fill="#151515">Complexo da Habitação</text>
<text x="686" y="2233.5" font-size="22.1" fill="#151515">Pública de Seac Pai Van</text>
<text x="686" y="2260.5" font-size="22.1" fill="#151515" font-style="italic">Seac Pai Van Public</text>
<text x="686" y="2285.5" font-size="22.1" fill="#151515" font-style="italic">Housing Community</text>
<text x="1002" y="2164.8" font-size="21.7" fill="#151515" stroke="#151515" stroke-width="0.75">和諧大馬路</text>
<text x="1002" y="2190" font-size="22.1" fill="#151515" font-style="italic">Avenida da</text>
<text x="1002" y="2216" font-size="22.1" fill="#151515" font-style="italic">Harmonia</text>
<text x="665" y="2347.3" font-size="24.4" fill="#151515" stroke="#151515" stroke-width="0.75">社區用地</text>
<text x="667.3" y="2374" font-size="20.2" fill="#151515" letter-spacing="-0.25">Terreno da zona comunitária</text>
<text x="665.5" y="2405.5" font-size="22.1" fill="#151515" font-style="italic">Community Site</text>
<text x="243.7" y="2199.5" font-size="24.4" fill="#151515" stroke="#151515" stroke-width="0.75">往路環市區</text>
<text x="243.7" y="2226.7" font-size="22.1" fill="#151515">Em direcção à vila de Coloane</text>
<text x="243.7" y="2254" font-size="22.1" fill="#151515" font-style="italic">To Coloane</text>
<polygon points="290,2271.700 315,2271.700 302.5,2291.700" fill="#111"/>
<rect x="621" y="1253" width="215" height="197" rx="29" fill="#06E4A2" fill-opacity="0.93"/>
<text x="728.7" y="1288" font-size="28" fill="#fff" text-anchor="middle" stroke="#fff" stroke-width="0.6">蓮花口岸站</text>
<line x1="640" y1="1298" x2="817" y2="1298" stroke="#fff" stroke-width="1.8"/>
<text x="728.7" y="1325" font-size="22.3" fill="#fff" text-anchor="middle">Estação do Posto</text>
<text x="728.7" y="1350" font-size="22.3" fill="#fff" text-anchor="middle">Fronteiriço da</text>
<text x="728.7" y="1375" font-size="22.3" fill="#fff" text-anchor="middle">Flor de Lótus</text>
<line x1="640" y1="1385.5" x2="817" y2="1385.5" stroke="#fff" stroke-width="1.8"/>
<text x="728.7" y="1407.5" font-size="22.3" fill="#fff" font-style="italic" text-anchor="middle">Lotus Checkpoint</text>
<text x="728.7" y="1433" font-size="22.3" fill="#fff" font-style="italic" text-anchor="middle">Station</text>
<rect x="718" y="1561" width="215" height="198.5" rx="29" fill="#06E4A2" fill-opacity="0.93"/>
<text x="825.5" y="1597.5" font-size="28" fill="#fff" text-anchor="middle" stroke="#fff" stroke-width="0.6">離島醫院站</text>
<line x1="737.5" y1="1607.5" x2="914" y2="1607.5" stroke="#fff" stroke-width="1.8"/>
<text x="825.5" y="1646" font-size="22.3" fill="#fff" text-anchor="middle">Estação do</text>
<text x="825.5" y="1671" font-size="22.3" fill="#fff" text-anchor="middle">Hospital das Ilhas</text>
<line x1="737.5" y1="1695" x2="914" y2="1695" stroke="#fff" stroke-width="1.8"/>
<text x="825.5" y="1717" font-size="22.3" fill="#fff" font-style="italic" text-anchor="middle">Islands</text>
<text x="825.5" y="1742.5" font-size="22.3" fill="#fff" font-style="italic" text-anchor="middle">Hospital Station</text>
<rect x="647" y="1822" width="214" height="199" rx="29" fill="#06E4A2" fill-opacity="0.93"/>
<text x="754" y="1868.3" font-size="28" fill="#fff" text-anchor="middle" stroke="#fff" stroke-width="0.6">石排灣站</text>
<line x1="665.5" y1="1878" x2="842.5" y2="1878" stroke="#fff" stroke-width="1.8"/>
<text x="754" y="1905" font-size="22.3" fill="#fff" text-anchor="middle">Estação de</text>
<text x="754" y="1930" font-size="22.3" fill="#fff" text-anchor="middle">Seac Pai Van</text>
<line x1="665.5" y1="1943.7" x2="842.5" y2="1943.7" stroke="#fff" stroke-width="1.8"/>
<text x="754" y="1966" font-size="22.3" fill="#fff" font-style="italic" text-anchor="middle">Seac Pai Van</text>
<text x="754" y="1992" font-size="22.3" fill="#fff" font-style="italic" text-anchor="middle">Station</text>
</svg>
</body></html>
